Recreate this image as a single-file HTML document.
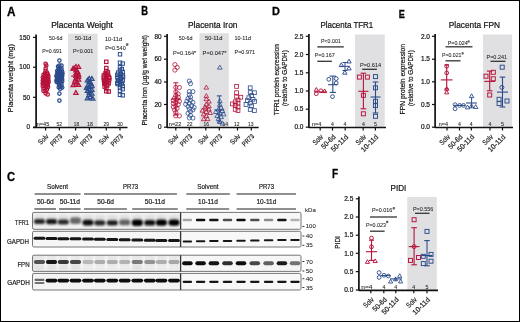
<!DOCTYPE html>
<html><head><meta charset="utf-8"><style>
html,body{margin:0;padding:0;background:#fff;}
svg{display:block;will-change:transform;font-family:"Liberation Sans", sans-serif;}
</style></head><body>
<svg width="520" height="322" viewBox="0 0 520 322">
<rect x="0.5" y="0.5" width="519" height="321" fill="#fff" stroke="#000" stroke-width="1"/>
<text x="7.00" y="15.90" font-size="12.43" font-weight="bold" fill="#000" stroke="#000" stroke-width="0.3" textLength="8.50" lengthAdjust="spacingAndGlyphs">A</text>
<text x="51.20" y="28.40" font-size="8.29" font-weight="normal" fill="#111" stroke="#111" stroke-width="0.2" textLength="61.80" lengthAdjust="spacingAndGlyphs">Placenta Weight</text>
<rect x="68.00" y="33.70" width="29.60" height="93.80" fill="#e0e0e2"/>
<text x="13.50" y="78.20" font-size="7.50" text-anchor="middle" fill="#111" stroke="#111" stroke-width="0.2" transform="rotate(-90 13.50 78.20)" textLength="68.00" lengthAdjust="spacingAndGlyphs">Placenta weight (mg)</text>
<text x="49.00" y="39.80" font-size="4.86" font-weight="normal" fill="#222" stroke="#222" stroke-width="0.06" textLength="13.50" lengthAdjust="spacingAndGlyphs">50-6d</text>
<text x="75.00" y="39.80" font-size="4.86" font-weight="normal" fill="#222" stroke="#222" stroke-width="0.06" textLength="16.20" lengthAdjust="spacingAndGlyphs">50-11d</text>
<text x="105.00" y="40.60" font-size="4.86" font-weight="normal" fill="#222" stroke="#222" stroke-width="0.06" textLength="17.00" lengthAdjust="spacingAndGlyphs">10-11d</text>
<text x="42.20" y="52.60" font-size="5.14" font-weight="normal" fill="#222" stroke="#222" stroke-width="0.06" textLength="19.80" lengthAdjust="spacingAndGlyphs">P=0.691</text>
<text x="73.00" y="52.60" font-size="5.14" font-weight="normal" fill="#222" stroke="#222" stroke-width="0.06" textLength="20.30" lengthAdjust="spacingAndGlyphs">P&lt;0.001</text>
<text x="105.20" y="50.00" font-size="5.71" font-weight="normal" fill="#222" stroke="#222" stroke-width="0.06" textLength="20.50" lengthAdjust="spacingAndGlyphs">P=0.540</text>
<path d="M126.84 43.10L126.59 46.00M127.82 43.10L127.58 46.00M125.90 44.06H128.37M125.90 45.07H128.37" stroke="#333" stroke-width="0.55" fill="none"/>
<text x="36.80" y="126.10" font-size="4.57" font-weight="normal" fill="#222" stroke="#222" stroke-width="0.06" textLength="12.40" lengthAdjust="spacingAndGlyphs">n=45</text>
<text x="56.50" y="126.10" font-size="4.57" font-weight="normal" fill="#222" stroke="#222" stroke-width="0.06" textLength="5.60" lengthAdjust="spacingAndGlyphs">52</text>
<text x="73.80" y="126.10" font-size="4.57" font-weight="normal" fill="#222" stroke="#222" stroke-width="0.06" textLength="5.20" lengthAdjust="spacingAndGlyphs">18</text>
<text x="87.10" y="126.10" font-size="4.57" font-weight="normal" fill="#222" stroke="#222" stroke-width="0.06" textLength="5.70" lengthAdjust="spacingAndGlyphs">18</text>
<text x="103.50" y="126.10" font-size="4.57" font-weight="normal" fill="#222" stroke="#222" stroke-width="0.06" textLength="5.50" lengthAdjust="spacingAndGlyphs">29</text>
<text x="117.30" y="126.10" font-size="4.57" font-weight="normal" fill="#222" stroke="#222" stroke-width="0.06" textLength="5.50" lengthAdjust="spacingAndGlyphs">30</text>
<circle cx="45.60" cy="63.80" r="1.70" fill="none" stroke="#b5133b" stroke-width="1.25"/>
<circle cx="46.30" cy="65.50" r="1.70" fill="none" stroke="#b5133b" stroke-width="1.25"/>
<circle cx="45.60" cy="68.51" r="1.70" fill="none" stroke="#b5133b" stroke-width="1.25"/>
<circle cx="45.60" cy="70.94" r="1.70" fill="none" stroke="#b5133b" stroke-width="1.25"/>
<circle cx="47.00" cy="72.58" r="1.70" fill="none" stroke="#b5133b" stroke-width="1.25"/>
<circle cx="44.90" cy="73.21" r="1.70" fill="none" stroke="#b5133b" stroke-width="1.25"/>
<circle cx="47.70" cy="74.27" r="1.70" fill="none" stroke="#b5133b" stroke-width="1.25"/>
<circle cx="43.50" cy="74.83" r="1.70" fill="none" stroke="#b5133b" stroke-width="1.25"/>
<circle cx="45.60" cy="75.23" r="1.70" fill="none" stroke="#b5133b" stroke-width="1.25"/>
<circle cx="48.40" cy="76.03" r="1.70" fill="none" stroke="#b5133b" stroke-width="1.25"/>
<circle cx="44.32" cy="76.24" r="1.70" fill="none" stroke="#b5133b" stroke-width="1.25"/>
<circle cx="46.30" cy="76.93" r="1.70" fill="none" stroke="#b5133b" stroke-width="1.25"/>
<circle cx="47.48" cy="77.14" r="1.70" fill="none" stroke="#b5133b" stroke-width="1.25"/>
<circle cx="42.80" cy="77.56" r="1.70" fill="none" stroke="#b5133b" stroke-width="1.25"/>
<circle cx="44.90" cy="78.15" r="1.70" fill="none" stroke="#b5133b" stroke-width="1.25"/>
<circle cx="48.40" cy="78.71" r="1.70" fill="none" stroke="#b5133b" stroke-width="1.25"/>
<circle cx="46.87" cy="78.77" r="1.70" fill="none" stroke="#b5133b" stroke-width="1.25"/>
<circle cx="43.96" cy="79.13" r="1.70" fill="none" stroke="#b5133b" stroke-width="1.25"/>
<circle cx="46.08" cy="79.72" r="1.70" fill="none" stroke="#b5133b" stroke-width="1.25"/>
<circle cx="45.76" cy="80.25" r="1.70" fill="none" stroke="#b5133b" stroke-width="1.25"/>
<circle cx="48.00" cy="80.37" r="1.70" fill="none" stroke="#b5133b" stroke-width="1.25"/>
<circle cx="42.80" cy="80.60" r="1.70" fill="none" stroke="#b5133b" stroke-width="1.25"/>
<circle cx="47.07" cy="81.06" r="1.70" fill="none" stroke="#b5133b" stroke-width="1.25"/>
<circle cx="44.24" cy="81.29" r="1.70" fill="none" stroke="#b5133b" stroke-width="1.25"/>
<circle cx="48.67" cy="81.89" r="1.70" fill="none" stroke="#b5133b" stroke-width="1.25"/>
<circle cx="43.16" cy="81.89" r="1.70" fill="none" stroke="#b5133b" stroke-width="1.25"/>
<circle cx="45.08" cy="82.15" r="1.70" fill="none" stroke="#b5133b" stroke-width="1.25"/>
<circle cx="47.25" cy="82.48" r="1.70" fill="none" stroke="#b5133b" stroke-width="1.25"/>
<circle cx="43.37" cy="82.95" r="1.70" fill="none" stroke="#b5133b" stroke-width="1.25"/>
<circle cx="45.53" cy="83.62" r="1.70" fill="none" stroke="#b5133b" stroke-width="1.25"/>
<circle cx="42.65" cy="83.62" r="1.70" fill="none" stroke="#b5133b" stroke-width="1.25"/>
<circle cx="47.70" cy="84.25" r="1.70" fill="none" stroke="#b5133b" stroke-width="1.25"/>
<circle cx="46.68" cy="84.69" r="1.70" fill="none" stroke="#b5133b" stroke-width="1.25"/>
<circle cx="44.20" cy="84.96" r="1.70" fill="none" stroke="#b5133b" stroke-width="1.25"/>
<circle cx="47.29" cy="85.52" r="1.70" fill="none" stroke="#b5133b" stroke-width="1.25"/>
<circle cx="46.07" cy="85.71" r="1.70" fill="none" stroke="#b5133b" stroke-width="1.25"/>
<circle cx="42.80" cy="86.24" r="1.70" fill="none" stroke="#b5133b" stroke-width="1.25"/>
<circle cx="48.00" cy="86.91" r="1.70" fill="none" stroke="#b5133b" stroke-width="1.25"/>
<circle cx="45.60" cy="87.86" r="1.70" fill="none" stroke="#b5133b" stroke-width="1.25"/>
<circle cx="43.50" cy="88.49" r="1.70" fill="none" stroke="#b5133b" stroke-width="1.25"/>
<circle cx="47.00" cy="89.39" r="1.70" fill="none" stroke="#b5133b" stroke-width="1.25"/>
<circle cx="45.60" cy="90.91" r="1.70" fill="none" stroke="#b5133b" stroke-width="1.25"/>
<circle cx="43.50" cy="91.00" r="1.70" fill="none" stroke="#b5133b" stroke-width="1.25"/>
<circle cx="45.60" cy="93.35" r="1.70" fill="none" stroke="#b5133b" stroke-width="1.25"/>
<circle cx="47.70" cy="94.40" r="1.70" fill="none" stroke="#b5133b" stroke-width="1.25"/>
<circle cx="59.40" cy="60.60" r="1.70" fill="none" stroke="#2b4b8b" stroke-width="1.25"/>
<circle cx="59.40" cy="65.49" r="1.70" fill="none" stroke="#2b4b8b" stroke-width="1.25"/>
<circle cx="61.50" cy="65.60" r="1.70" fill="none" stroke="#2b4b8b" stroke-width="1.25"/>
<circle cx="58.00" cy="66.48" r="1.70" fill="none" stroke="#2b4b8b" stroke-width="1.25"/>
<circle cx="59.40" cy="67.73" r="1.70" fill="none" stroke="#2b4b8b" stroke-width="1.25"/>
<circle cx="61.50" cy="68.67" r="1.70" fill="none" stroke="#2b4b8b" stroke-width="1.25"/>
<circle cx="58.70" cy="69.36" r="1.70" fill="none" stroke="#2b4b8b" stroke-width="1.25"/>
<circle cx="60.80" cy="70.23" r="1.70" fill="none" stroke="#2b4b8b" stroke-width="1.25"/>
<circle cx="57.30" cy="70.86" r="1.70" fill="none" stroke="#2b4b8b" stroke-width="1.25"/>
<circle cx="58.88" cy="71.08" r="1.70" fill="none" stroke="#2b4b8b" stroke-width="1.25"/>
<circle cx="62.20" cy="71.66" r="1.70" fill="none" stroke="#2b4b8b" stroke-width="1.25"/>
<circle cx="58.56" cy="71.73" r="1.70" fill="none" stroke="#2b4b8b" stroke-width="1.25"/>
<circle cx="60.10" cy="72.53" r="1.70" fill="none" stroke="#2b4b8b" stroke-width="1.25"/>
<circle cx="57.30" cy="72.88" r="1.70" fill="none" stroke="#2b4b8b" stroke-width="1.25"/>
<circle cx="62.20" cy="73.45" r="1.70" fill="none" stroke="#2b4b8b" stroke-width="1.25"/>
<circle cx="59.82" cy="73.71" r="1.70" fill="none" stroke="#2b4b8b" stroke-width="1.25"/>
<circle cx="62.30" cy="73.72" r="1.70" fill="none" stroke="#2b4b8b" stroke-width="1.25"/>
<circle cx="60.62" cy="74.12" r="1.70" fill="none" stroke="#2b4b8b" stroke-width="1.25"/>
<circle cx="58.00" cy="74.54" r="1.70" fill="none" stroke="#2b4b8b" stroke-width="1.25"/>
<circle cx="59.50" cy="74.61" r="1.70" fill="none" stroke="#2b4b8b" stroke-width="1.25"/>
<circle cx="60.15" cy="75.11" r="1.70" fill="none" stroke="#2b4b8b" stroke-width="1.25"/>
<circle cx="60.53" cy="75.25" r="1.70" fill="none" stroke="#2b4b8b" stroke-width="1.25"/>
<circle cx="56.60" cy="75.52" r="1.70" fill="none" stroke="#2b4b8b" stroke-width="1.25"/>
<circle cx="62.20" cy="75.79" r="1.70" fill="none" stroke="#2b4b8b" stroke-width="1.25"/>
<circle cx="58.70" cy="76.43" r="1.70" fill="none" stroke="#2b4b8b" stroke-width="1.25"/>
<circle cx="56.55" cy="76.51" r="1.70" fill="none" stroke="#2b4b8b" stroke-width="1.25"/>
<circle cx="61.96" cy="76.80" r="1.70" fill="none" stroke="#2b4b8b" stroke-width="1.25"/>
<circle cx="61.19" cy="77.19" r="1.70" fill="none" stroke="#2b4b8b" stroke-width="1.25"/>
<circle cx="61.80" cy="77.61" r="1.70" fill="none" stroke="#2b4b8b" stroke-width="1.25"/>
<circle cx="61.31" cy="77.78" r="1.70" fill="none" stroke="#2b4b8b" stroke-width="1.25"/>
<circle cx="59.40" cy="78.14" r="1.70" fill="none" stroke="#2b4b8b" stroke-width="1.25"/>
<circle cx="57.30" cy="78.52" r="1.70" fill="none" stroke="#2b4b8b" stroke-width="1.25"/>
<circle cx="58.71" cy="79.04" r="1.70" fill="none" stroke="#2b4b8b" stroke-width="1.25"/>
<circle cx="62.20" cy="79.34" r="1.70" fill="none" stroke="#2b4b8b" stroke-width="1.25"/>
<circle cx="58.75" cy="79.71" r="1.70" fill="none" stroke="#2b4b8b" stroke-width="1.25"/>
<circle cx="56.86" cy="79.71" r="1.70" fill="none" stroke="#2b4b8b" stroke-width="1.25"/>
<circle cx="60.26" cy="80.16" r="1.70" fill="none" stroke="#2b4b8b" stroke-width="1.25"/>
<circle cx="56.60" cy="80.51" r="1.70" fill="none" stroke="#2b4b8b" stroke-width="1.25"/>
<circle cx="62.20" cy="81.23" r="1.70" fill="none" stroke="#2b4b8b" stroke-width="1.25"/>
<circle cx="59.40" cy="81.69" r="1.70" fill="none" stroke="#2b4b8b" stroke-width="1.25"/>
<circle cx="56.63" cy="81.71" r="1.70" fill="none" stroke="#2b4b8b" stroke-width="1.25"/>
<circle cx="57.54" cy="82.22" r="1.70" fill="none" stroke="#2b4b8b" stroke-width="1.25"/>
<circle cx="60.80" cy="82.81" r="1.70" fill="none" stroke="#2b4b8b" stroke-width="1.25"/>
<circle cx="58.70" cy="83.46" r="1.70" fill="none" stroke="#2b4b8b" stroke-width="1.25"/>
<circle cx="61.50" cy="84.37" r="1.70" fill="none" stroke="#2b4b8b" stroke-width="1.25"/>
<circle cx="59.40" cy="85.38" r="1.70" fill="none" stroke="#2b4b8b" stroke-width="1.25"/>
<circle cx="60.80" cy="86.50" r="1.70" fill="none" stroke="#2b4b8b" stroke-width="1.25"/>
<circle cx="58.70" cy="87.20" r="1.70" fill="none" stroke="#2b4b8b" stroke-width="1.25"/>
<circle cx="62.20" cy="87.50" r="1.70" fill="none" stroke="#2b4b8b" stroke-width="1.25"/>
<circle cx="60.10" cy="88.70" r="1.70" fill="none" stroke="#2b4b8b" stroke-width="1.25"/>
<circle cx="59.40" cy="93.60" r="1.70" fill="none" stroke="#2b4b8b" stroke-width="1.25"/>
<circle cx="59.40" cy="100.60" r="1.70" fill="none" stroke="#2b4b8b" stroke-width="1.25"/>
<path d="M75.90 64.51L77.99 68.16L73.81 68.16Z" fill="none" stroke="#b5133b" stroke-width="1.25"/>
<path d="M78.60 64.71L80.69 68.37L76.51 68.37Z" fill="none" stroke="#b5133b" stroke-width="1.25"/>
<path d="M74.10 66.24L76.19 69.90L72.01 69.90Z" fill="none" stroke="#b5133b" stroke-width="1.25"/>
<path d="M73.03 66.41L75.12 70.07L70.94 70.07Z" fill="none" stroke="#b5133b" stroke-width="1.25"/>
<path d="M75.90 68.16L77.99 71.81L73.81 71.81Z" fill="none" stroke="#b5133b" stroke-width="1.25"/>
<path d="M77.70 69.73L79.79 73.38L75.61 73.38Z" fill="none" stroke="#b5133b" stroke-width="1.25"/>
<path d="M75.90 71.19L77.99 74.84L73.81 74.84Z" fill="none" stroke="#b5133b" stroke-width="1.25"/>
<path d="M78.60 72.40L80.69 76.06L76.51 76.06Z" fill="none" stroke="#b5133b" stroke-width="1.25"/>
<path d="M75.90 73.75L77.99 77.40L73.81 77.40Z" fill="none" stroke="#b5133b" stroke-width="1.25"/>
<path d="M78.60 74.71L80.69 78.37L76.51 78.37Z" fill="none" stroke="#b5133b" stroke-width="1.25"/>
<path d="M75.90 76.40L77.99 80.06L73.81 80.06Z" fill="none" stroke="#b5133b" stroke-width="1.25"/>
<path d="M78.60 77.49L80.69 81.15L76.51 81.15Z" fill="none" stroke="#b5133b" stroke-width="1.25"/>
<path d="M75.00 78.58L77.09 82.24L72.91 82.24Z" fill="none" stroke="#b5133b" stroke-width="1.25"/>
<path d="M76.80 80.25L78.89 83.90L74.71 83.90Z" fill="none" stroke="#b5133b" stroke-width="1.25"/>
<path d="M75.90 82.39L77.99 86.05L73.81 86.05Z" fill="none" stroke="#b5133b" stroke-width="1.25"/>
<path d="M78.60 82.83L80.69 86.49L76.51 86.49Z" fill="none" stroke="#b5133b" stroke-width="1.25"/>
<path d="M73.20 82.91L75.29 86.57L71.11 86.57Z" fill="none" stroke="#b5133b" stroke-width="1.25"/>
<path d="M75.90 90.61L77.99 94.27L73.81 94.27Z" fill="none" stroke="#b5133b" stroke-width="1.25"/>
<path d="M89.20 76.41L91.29 80.07L87.11 80.07Z" fill="none" stroke="#2b4b8b" stroke-width="1.25"/>
<path d="M91.90 76.62L93.99 80.28L89.81 80.28Z" fill="none" stroke="#2b4b8b" stroke-width="1.25"/>
<path d="M87.40 78.14L89.49 81.80L85.31 81.80Z" fill="none" stroke="#2b4b8b" stroke-width="1.25"/>
<path d="M89.20 79.82L91.29 83.48L87.11 83.48Z" fill="none" stroke="#2b4b8b" stroke-width="1.25"/>
<path d="M91.00 81.35L93.09 85.01L88.91 85.01Z" fill="none" stroke="#2b4b8b" stroke-width="1.25"/>
<path d="M88.30 82.40L90.39 86.05L86.21 86.05Z" fill="none" stroke="#2b4b8b" stroke-width="1.25"/>
<path d="M91.90 83.56L93.99 87.21L89.81 87.21Z" fill="none" stroke="#2b4b8b" stroke-width="1.25"/>
<path d="M89.20 84.77L91.29 88.43L87.11 88.43Z" fill="none" stroke="#2b4b8b" stroke-width="1.25"/>
<path d="M86.50 85.76L88.59 89.42L84.41 89.42Z" fill="none" stroke="#2b4b8b" stroke-width="1.25"/>
<path d="M89.20 87.12L91.29 90.77L87.11 90.77Z" fill="none" stroke="#2b4b8b" stroke-width="1.25"/>
<path d="M91.90 87.75L93.99 91.41L89.81 91.41Z" fill="none" stroke="#2b4b8b" stroke-width="1.25"/>
<path d="M87.40 88.74L89.49 92.40L85.31 92.40Z" fill="none" stroke="#2b4b8b" stroke-width="1.25"/>
<path d="M89.20 90.44L91.29 94.10L87.11 94.10Z" fill="none" stroke="#2b4b8b" stroke-width="1.25"/>
<path d="M91.90 91.47L93.99 95.13L89.81 95.13Z" fill="none" stroke="#2b4b8b" stroke-width="1.25"/>
<path d="M89.20 92.76L91.29 96.42L87.11 96.42Z" fill="none" stroke="#2b4b8b" stroke-width="1.25"/>
<path d="M90.10 95.00L92.19 98.66L88.01 98.66Z" fill="none" stroke="#2b4b8b" stroke-width="1.25"/>
<path d="M87.40 96.13L89.49 99.78L85.31 99.78Z" fill="none" stroke="#2b4b8b" stroke-width="1.25"/>
<path d="M92.80 96.41L94.89 100.07L90.71 100.07Z" fill="none" stroke="#2b4b8b" stroke-width="1.25"/>
<rect x="104.60" y="60.10" width="3.40" height="3.40" fill="none" stroke="#b5133b" stroke-width="1.15"/>
<rect x="104.60" y="66.35" width="3.40" height="3.40" fill="none" stroke="#b5133b" stroke-width="1.15"/>
<rect x="104.60" y="69.32" width="3.40" height="3.40" fill="none" stroke="#b5133b" stroke-width="1.15"/>
<rect x="106.20" y="70.73" width="3.40" height="3.40" fill="none" stroke="#b5133b" stroke-width="1.15"/>
<rect x="103.80" y="71.71" width="3.40" height="3.40" fill="none" stroke="#b5133b" stroke-width="1.15"/>
<rect x="104.28" y="72.34" width="3.40" height="3.40" fill="none" stroke="#b5133b" stroke-width="1.15"/>
<rect x="106.20" y="73.16" width="3.40" height="3.40" fill="none" stroke="#b5133b" stroke-width="1.15"/>
<rect x="102.20" y="73.73" width="3.40" height="3.40" fill="none" stroke="#b5133b" stroke-width="1.15"/>
<rect x="104.60" y="74.72" width="3.40" height="3.40" fill="none" stroke="#b5133b" stroke-width="1.15"/>
<rect x="107.00" y="75.17" width="3.40" height="3.40" fill="none" stroke="#b5133b" stroke-width="1.15"/>
<rect x="102.20" y="75.88" width="3.40" height="3.40" fill="none" stroke="#b5133b" stroke-width="1.15"/>
<rect x="107.22" y="76.15" width="3.40" height="3.40" fill="none" stroke="#b5133b" stroke-width="1.15"/>
<rect x="107.53" y="76.61" width="3.40" height="3.40" fill="none" stroke="#b5133b" stroke-width="1.15"/>
<rect x="104.60" y="77.48" width="3.40" height="3.40" fill="none" stroke="#b5133b" stroke-width="1.15"/>
<rect x="102.20" y="78.09" width="3.40" height="3.40" fill="none" stroke="#b5133b" stroke-width="1.15"/>
<rect x="107.33" y="78.52" width="3.40" height="3.40" fill="none" stroke="#b5133b" stroke-width="1.15"/>
<rect x="103.79" y="79.01" width="3.40" height="3.40" fill="none" stroke="#b5133b" stroke-width="1.15"/>
<rect x="102.92" y="79.54" width="3.40" height="3.40" fill="none" stroke="#b5133b" stroke-width="1.15"/>
<rect x="102.96" y="80.04" width="3.40" height="3.40" fill="none" stroke="#b5133b" stroke-width="1.15"/>
<rect x="105.40" y="80.29" width="3.40" height="3.40" fill="none" stroke="#b5133b" stroke-width="1.15"/>
<rect x="102.78" y="81.05" width="3.40" height="3.40" fill="none" stroke="#b5133b" stroke-width="1.15"/>
<rect x="107.00" y="81.58" width="3.40" height="3.40" fill="none" stroke="#b5133b" stroke-width="1.15"/>
<rect x="102.83" y="82.07" width="3.40" height="3.40" fill="none" stroke="#b5133b" stroke-width="1.15"/>
<rect x="105.40" y="82.84" width="3.40" height="3.40" fill="none" stroke="#b5133b" stroke-width="1.15"/>
<rect x="105.34" y="83.87" width="3.40" height="3.40" fill="none" stroke="#b5133b" stroke-width="1.15"/>
<rect x="103.00" y="84.94" width="3.40" height="3.40" fill="none" stroke="#b5133b" stroke-width="1.15"/>
<rect x="104.60" y="86.68" width="3.40" height="3.40" fill="none" stroke="#b5133b" stroke-width="1.15"/>
<rect x="104.60" y="89.54" width="3.40" height="3.40" fill="none" stroke="#b5133b" stroke-width="1.15"/>
<rect x="107.00" y="89.80" width="3.40" height="3.40" fill="none" stroke="#b5133b" stroke-width="1.15"/>
<rect x="118.30" y="52.60" width="3.40" height="3.40" fill="none" stroke="#2b4b8b" stroke-width="1.0"/>
<rect x="118.30" y="61.00" width="3.40" height="3.40" fill="none" stroke="#2b4b8b" stroke-width="1.0"/>
<rect x="121.00" y="61.90" width="3.40" height="3.40" fill="none" stroke="#2b4b8b" stroke-width="1.0"/>
<rect x="118.30" y="65.56" width="3.40" height="3.40" fill="none" stroke="#2b4b8b" stroke-width="1.0"/>
<rect x="120.10" y="67.35" width="3.40" height="3.40" fill="none" stroke="#2b4b8b" stroke-width="1.0"/>
<rect x="118.30" y="68.93" width="3.40" height="3.40" fill="none" stroke="#2b4b8b" stroke-width="1.0"/>
<rect x="121.00" y="70.22" width="3.40" height="3.40" fill="none" stroke="#2b4b8b" stroke-width="1.0"/>
<rect x="116.50" y="70.84" width="3.40" height="3.40" fill="none" stroke="#2b4b8b" stroke-width="1.0"/>
<rect x="119.20" y="72.12" width="3.40" height="3.40" fill="none" stroke="#2b4b8b" stroke-width="1.0"/>
<rect x="115.60" y="73.12" width="3.40" height="3.40" fill="none" stroke="#2b4b8b" stroke-width="1.0"/>
<rect x="121.00" y="73.85" width="3.40" height="3.40" fill="none" stroke="#2b4b8b" stroke-width="1.0"/>
<rect x="118.30" y="74.60" width="3.40" height="3.40" fill="none" stroke="#2b4b8b" stroke-width="1.0"/>
<rect x="121.37" y="75.17" width="3.40" height="3.40" fill="none" stroke="#2b4b8b" stroke-width="1.0"/>
<rect x="115.60" y="75.71" width="3.40" height="3.40" fill="none" stroke="#2b4b8b" stroke-width="1.0"/>
<rect x="119.20" y="76.78" width="3.40" height="3.40" fill="none" stroke="#2b4b8b" stroke-width="1.0"/>
<rect x="119.31" y="77.20" width="3.40" height="3.40" fill="none" stroke="#2b4b8b" stroke-width="1.0"/>
<rect x="116.50" y="78.18" width="3.40" height="3.40" fill="none" stroke="#2b4b8b" stroke-width="1.0"/>
<rect x="121.00" y="78.98" width="3.40" height="3.40" fill="none" stroke="#2b4b8b" stroke-width="1.0"/>
<rect x="117.34" y="79.35" width="3.40" height="3.40" fill="none" stroke="#2b4b8b" stroke-width="1.0"/>
<rect x="118.61" y="80.09" width="3.40" height="3.40" fill="none" stroke="#2b4b8b" stroke-width="1.0"/>
<rect x="115.60" y="81.18" width="3.40" height="3.40" fill="none" stroke="#2b4b8b" stroke-width="1.0"/>
<rect x="120.10" y="81.86" width="3.40" height="3.40" fill="none" stroke="#2b4b8b" stroke-width="1.0"/>
<rect x="115.94" y="82.38" width="3.40" height="3.40" fill="none" stroke="#2b4b8b" stroke-width="1.0"/>
<rect x="118.30" y="83.29" width="3.40" height="3.40" fill="none" stroke="#2b4b8b" stroke-width="1.0"/>
<rect x="121.00" y="84.35" width="3.40" height="3.40" fill="none" stroke="#2b4b8b" stroke-width="1.0"/>
<rect x="118.30" y="86.00" width="3.40" height="3.40" fill="none" stroke="#2b4b8b" stroke-width="1.0"/>
<rect x="121.00" y="87.42" width="3.40" height="3.40" fill="none" stroke="#2b4b8b" stroke-width="1.0"/>
<rect x="118.30" y="89.04" width="3.40" height="3.40" fill="none" stroke="#2b4b8b" stroke-width="1.0"/>
<rect x="118.30" y="93.14" width="3.40" height="3.40" fill="none" stroke="#2b4b8b" stroke-width="1.0"/>
<rect x="121.00" y="93.60" width="3.40" height="3.40" fill="none" stroke="#2b4b8b" stroke-width="1.0"/>
<line x1="71.20" y1="76.10" x2="80.90" y2="76.10" stroke="#b5133b" stroke-width="1.1"/>
<line x1="84.50" y1="87.90" x2="94.50" y2="87.90" stroke="#2b4b8b" stroke-width="1.1"/>
<line x1="36.10" y1="34.40" x2="36.10" y2="127.80" stroke="#111" stroke-width="1.7"/>
<line x1="33.00" y1="37.40" x2="36.00" y2="37.40" stroke="#111" stroke-width="1.2"/>
<text x="30.00" y="39.60" font-size="6.40" text-anchor="end" fill="#111" stroke="#111" stroke-width="0.2">150</text>
<line x1="33.00" y1="67.20" x2="36.00" y2="67.20" stroke="#111" stroke-width="1.2"/>
<text x="30.00" y="69.40" font-size="6.40" text-anchor="end" fill="#111" stroke="#111" stroke-width="0.2">100</text>
<line x1="33.00" y1="97.30" x2="36.00" y2="97.30" stroke="#111" stroke-width="1.2"/>
<text x="30.00" y="99.50" font-size="6.40" text-anchor="end" fill="#111" stroke="#111" stroke-width="0.2">50</text>
<line x1="33.00" y1="127.20" x2="36.00" y2="127.20" stroke="#111" stroke-width="1.2"/>
<text x="30.00" y="129.40" font-size="6.40" text-anchor="end" fill="#111" stroke="#111" stroke-width="0.2">0</text>
<line x1="33.00" y1="127.50" x2="127.50" y2="127.50" stroke="#111" stroke-width="1.7"/>
<line x1="45.60" y1="127.50" x2="45.60" y2="130.50" stroke="#111" stroke-width="1.2"/>
<line x1="59.40" y1="127.50" x2="59.40" y2="130.50" stroke="#111" stroke-width="1.2"/>
<line x1="75.60" y1="127.50" x2="75.60" y2="130.50" stroke="#111" stroke-width="1.2"/>
<line x1="89.40" y1="127.50" x2="89.40" y2="130.50" stroke="#111" stroke-width="1.2"/>
<line x1="106.30" y1="127.50" x2="106.30" y2="130.50" stroke="#111" stroke-width="1.2"/>
<line x1="120.00" y1="127.50" x2="120.00" y2="130.50" stroke="#111" stroke-width="1.2"/>
<text x="49.00" y="136.80" font-size="7.00" text-anchor="end" fill="#222" stroke="#222" stroke-width="0.2" transform="rotate(-45 49.00 136.80)" textLength="11.50" lengthAdjust="spacingAndGlyphs">Solv</text>
<text x="62.80" y="136.80" font-size="7.00" text-anchor="end" fill="#222" stroke="#222" stroke-width="0.2" transform="rotate(-45 62.80 136.80)" textLength="14.00" lengthAdjust="spacingAndGlyphs">PR73</text>
<text x="79.00" y="136.80" font-size="7.00" text-anchor="end" fill="#222" stroke="#222" stroke-width="0.2" transform="rotate(-45 79.00 136.80)" textLength="11.50" lengthAdjust="spacingAndGlyphs">Solv</text>
<text x="92.80" y="136.80" font-size="7.00" text-anchor="end" fill="#222" stroke="#222" stroke-width="0.2" transform="rotate(-45 92.80 136.80)" textLength="14.00" lengthAdjust="spacingAndGlyphs">PR73</text>
<text x="109.70" y="136.80" font-size="7.00" text-anchor="end" fill="#222" stroke="#222" stroke-width="0.2" transform="rotate(-45 109.70 136.80)" textLength="11.50" lengthAdjust="spacingAndGlyphs">Solv</text>
<text x="123.40" y="136.80" font-size="7.00" text-anchor="end" fill="#222" stroke="#222" stroke-width="0.2" transform="rotate(-45 123.40 136.80)" textLength="14.00" lengthAdjust="spacingAndGlyphs">PR73</text>
<text x="141.30" y="15.40" font-size="12.00" font-weight="bold" fill="#000" stroke="#000" stroke-width="0.3" textLength="6.80" lengthAdjust="spacingAndGlyphs">B</text>
<text x="188.00" y="28.40" font-size="8.29" font-weight="normal" fill="#111" stroke="#111" stroke-width="0.2" textLength="49.50" lengthAdjust="spacingAndGlyphs">Placenta Iron</text>
<rect x="199.50" y="33.20" width="29.30" height="94.30" fill="#e0e0e2"/>
<text x="147.40" y="80.20" font-size="7.60" text-anchor="middle" fill="#111" stroke="#111" stroke-width="0.2" transform="rotate(-90 147.40 80.20)" textLength="90.50" lengthAdjust="spacingAndGlyphs">Placenta iron (µg/g wet weight)</text>
<text x="178.80" y="39.80" font-size="4.86" font-weight="normal" fill="#222" stroke="#222" stroke-width="0.06" textLength="13.70" lengthAdjust="spacingAndGlyphs">50-6d</text>
<text x="205.00" y="39.80" font-size="4.86" font-weight="normal" fill="#222" stroke="#222" stroke-width="0.06" textLength="17.50" lengthAdjust="spacingAndGlyphs">50-11d</text>
<text x="234.50" y="39.80" font-size="4.86" font-weight="normal" fill="#222" stroke="#222" stroke-width="0.06" textLength="16.50" lengthAdjust="spacingAndGlyphs">10-11d</text>
<text x="173.00" y="55.20" font-size="5.14" font-weight="normal" fill="#222" stroke="#222" stroke-width="0.06" textLength="23.30" lengthAdjust="spacingAndGlyphs">P=0.164*</text>
<text x="202.50" y="55.20" font-size="5.14" font-weight="normal" fill="#222" stroke="#222" stroke-width="0.06" textLength="24.10" lengthAdjust="spacingAndGlyphs">P=0.047*</text>
<text x="234.50" y="53.60" font-size="5.14" font-weight="normal" fill="#222" stroke="#222" stroke-width="0.06" textLength="20.60" lengthAdjust="spacingAndGlyphs">P=0.971</text>
<text x="168.80" y="126.10" font-size="4.57" font-weight="normal" fill="#222" stroke="#222" stroke-width="0.06" textLength="12.50" lengthAdjust="spacingAndGlyphs">n=22</text>
<text x="187.00" y="126.10" font-size="4.57" font-weight="normal" fill="#222" stroke="#222" stroke-width="0.06" textLength="5.50" lengthAdjust="spacingAndGlyphs">22</text>
<text x="203.50" y="126.10" font-size="4.57" font-weight="normal" fill="#222" stroke="#222" stroke-width="0.06" textLength="5.50" lengthAdjust="spacingAndGlyphs">16</text>
<text x="222.50" y="126.10" font-size="4.57" font-weight="normal" fill="#222" stroke="#222" stroke-width="0.06" textLength="5.50" lengthAdjust="spacingAndGlyphs">14</text>
<text x="234.00" y="126.10" font-size="4.57" font-weight="normal" fill="#222" stroke="#222" stroke-width="0.06" textLength="5.50" lengthAdjust="spacingAndGlyphs">12</text>
<text x="248.00" y="126.10" font-size="4.57" font-weight="normal" fill="#222" stroke="#222" stroke-width="0.06" textLength="5.50" lengthAdjust="spacingAndGlyphs">13</text>
<circle cx="175.80" cy="87.35" r="2.10" fill="none" stroke="#b5133b" stroke-width="0.8"/>
<circle cx="179.40" cy="87.50" r="2.10" fill="none" stroke="#b5133b" stroke-width="0.8"/>
<circle cx="175.80" cy="91.91" r="2.10" fill="none" stroke="#b5133b" stroke-width="0.8"/>
<circle cx="178.20" cy="93.95" r="2.10" fill="none" stroke="#b5133b" stroke-width="0.8"/>
<circle cx="175.80" cy="95.55" r="2.10" fill="none" stroke="#b5133b" stroke-width="0.8"/>
<circle cx="178.20" cy="97.20" r="2.10" fill="none" stroke="#b5133b" stroke-width="0.8"/>
<circle cx="174.60" cy="98.15" r="2.10" fill="none" stroke="#b5133b" stroke-width="0.8"/>
<circle cx="177.00" cy="99.56" r="2.10" fill="none" stroke="#b5133b" stroke-width="0.8"/>
<circle cx="173.40" cy="100.62" r="2.10" fill="none" stroke="#b5133b" stroke-width="0.8"/>
<circle cx="179.40" cy="101.30" r="2.10" fill="none" stroke="#b5133b" stroke-width="0.8"/>
<circle cx="175.80" cy="102.37" r="2.10" fill="none" stroke="#b5133b" stroke-width="0.8"/>
<circle cx="173.40" cy="103.45" r="2.10" fill="none" stroke="#b5133b" stroke-width="0.8"/>
<circle cx="178.20" cy="104.51" r="2.10" fill="none" stroke="#b5133b" stroke-width="0.8"/>
<circle cx="175.80" cy="105.87" r="2.10" fill="none" stroke="#b5133b" stroke-width="0.8"/>
<circle cx="173.40" cy="106.91" r="2.10" fill="none" stroke="#b5133b" stroke-width="0.8"/>
<circle cx="177.00" cy="108.41" r="2.10" fill="none" stroke="#b5133b" stroke-width="0.8"/>
<circle cx="174.60" cy="109.92" r="2.10" fill="none" stroke="#b5133b" stroke-width="0.8"/>
<circle cx="175.80" cy="112.62" r="2.10" fill="none" stroke="#b5133b" stroke-width="0.8"/>
<circle cx="175.80" cy="115.81" r="2.10" fill="none" stroke="#b5133b" stroke-width="0.8"/>
<circle cx="179.40" cy="115.90" r="2.10" fill="none" stroke="#b5133b" stroke-width="0.8"/>
<circle cx="174.90" cy="64.60" r="2.10" fill="none" stroke="#b5133b" stroke-width="0.8"/>
<circle cx="177.20" cy="67.40" r="2.10" fill="none" stroke="#b5133b" stroke-width="0.8"/>
<circle cx="174.90" cy="70.10" r="2.10" fill="none" stroke="#b5133b" stroke-width="0.8"/>
<line x1="170.80" y1="99.00" x2="180.80" y2="99.00" stroke="#b5133b" stroke-width="1.0"/>
<line x1="175.80" y1="82.80" x2="175.80" y2="115.00" stroke="#b5133b" stroke-width="1.0"/>
<line x1="173.30" y1="82.80" x2="178.30" y2="82.80" stroke="#b5133b" stroke-width="1.0"/>
<line x1="173.30" y1="115.00" x2="178.30" y2="115.00" stroke="#b5133b" stroke-width="1.0"/>
<circle cx="189.30" cy="81.10" r="2.10" fill="none" stroke="#2b4b8b" stroke-width="0.8"/>
<circle cx="190.50" cy="83.60" r="2.10" fill="none" stroke="#2b4b8b" stroke-width="0.8"/>
<circle cx="189.30" cy="91.57" r="2.10" fill="none" stroke="#2b4b8b" stroke-width="0.8"/>
<circle cx="192.90" cy="91.60" r="2.10" fill="none" stroke="#2b4b8b" stroke-width="0.8"/>
<circle cx="189.30" cy="94.68" r="2.10" fill="none" stroke="#2b4b8b" stroke-width="0.8"/>
<circle cx="190.50" cy="97.10" r="2.10" fill="none" stroke="#2b4b8b" stroke-width="0.8"/>
<circle cx="188.10" cy="98.49" r="2.10" fill="none" stroke="#2b4b8b" stroke-width="0.8"/>
<circle cx="190.50" cy="100.19" r="2.10" fill="none" stroke="#2b4b8b" stroke-width="0.8"/>
<circle cx="186.90" cy="101.19" r="2.10" fill="none" stroke="#2b4b8b" stroke-width="0.8"/>
<circle cx="192.90" cy="102.35" r="2.10" fill="none" stroke="#2b4b8b" stroke-width="0.8"/>
<circle cx="189.30" cy="103.44" r="2.10" fill="none" stroke="#2b4b8b" stroke-width="0.8"/>
<circle cx="185.70" cy="104.19" r="2.10" fill="none" stroke="#2b4b8b" stroke-width="0.8"/>
<circle cx="191.70" cy="105.49" r="2.10" fill="none" stroke="#2b4b8b" stroke-width="0.8"/>
<circle cx="188.10" cy="106.39" r="2.10" fill="none" stroke="#2b4b8b" stroke-width="0.8"/>
<circle cx="194.10" cy="107.37" r="2.10" fill="none" stroke="#2b4b8b" stroke-width="0.8"/>
<circle cx="189.30" cy="108.99" r="2.10" fill="none" stroke="#2b4b8b" stroke-width="0.8"/>
<circle cx="192.90" cy="109.86" r="2.10" fill="none" stroke="#2b4b8b" stroke-width="0.8"/>
<circle cx="190.50" cy="111.45" r="2.10" fill="none" stroke="#2b4b8b" stroke-width="0.8"/>
<circle cx="188.10" cy="113.28" r="2.10" fill="none" stroke="#2b4b8b" stroke-width="0.8"/>
<circle cx="190.50" cy="115.41" r="2.10" fill="none" stroke="#2b4b8b" stroke-width="0.8"/>
<circle cx="189.30" cy="117.90" r="2.10" fill="none" stroke="#2b4b8b" stroke-width="0.8"/>
<circle cx="192.90" cy="118.00" r="2.10" fill="none" stroke="#2b4b8b" stroke-width="0.8"/>
<path d="M206.30 85.09L208.61 89.13L203.99 89.13Z" fill="none" stroke="#b5133b" stroke-width="0.8"/>
<path d="M206.30 93.59L208.61 97.63L203.99 97.63Z" fill="none" stroke="#b5133b" stroke-width="0.8"/>
<path d="M206.30 96.69L208.61 100.73L203.99 100.73Z" fill="none" stroke="#b5133b" stroke-width="0.8"/>
<path d="M208.90 99.04L211.21 103.09L206.59 103.09Z" fill="none" stroke="#b5133b" stroke-width="0.8"/>
<path d="M206.30 101.97L208.61 106.01L203.99 106.01Z" fill="none" stroke="#b5133b" stroke-width="0.8"/>
<path d="M208.90 103.80L211.21 107.84L206.59 107.84Z" fill="none" stroke="#b5133b" stroke-width="0.8"/>
<path d="M205.00 104.71L207.31 108.75L202.69 108.75Z" fill="none" stroke="#b5133b" stroke-width="0.8"/>
<path d="M205.78 106.13L208.09 110.18L203.47 110.18Z" fill="none" stroke="#b5133b" stroke-width="0.8"/>
<path d="M208.90 107.02L211.21 111.06L206.59 111.06Z" fill="none" stroke="#b5133b" stroke-width="0.8"/>
<path d="M202.40 108.08L204.71 112.12L200.09 112.12Z" fill="none" stroke="#b5133b" stroke-width="0.8"/>
<path d="M206.30 109.45L208.61 113.49L203.99 113.49Z" fill="none" stroke="#b5133b" stroke-width="0.8"/>
<path d="M210.20 110.44L212.51 114.48L207.89 114.48Z" fill="none" stroke="#b5133b" stroke-width="0.8"/>
<path d="M203.70 111.79L206.01 115.83L201.39 115.83Z" fill="none" stroke="#b5133b" stroke-width="0.8"/>
<path d="M206.30 113.60L208.61 117.64L203.99 117.64Z" fill="none" stroke="#b5133b" stroke-width="0.8"/>
<path d="M207.60 116.60L209.91 120.64L205.29 120.64Z" fill="none" stroke="#b5133b" stroke-width="0.8"/>
<path d="M203.70 116.69L206.01 120.73L201.39 120.73Z" fill="none" stroke="#b5133b" stroke-width="0.8"/>
<path d="M219.80 65.09L222.11 69.13L217.49 69.13Z" fill="none" stroke="#2b4b8b" stroke-width="0.8"/>
<path d="M219.80 98.69L222.11 102.73L217.49 102.73Z" fill="none" stroke="#2b4b8b" stroke-width="0.8"/>
<path d="M219.80 102.30L222.11 106.35L217.49 106.35Z" fill="none" stroke="#2b4b8b" stroke-width="0.8"/>
<path d="M221.10 105.21L223.41 109.25L218.79 109.25Z" fill="none" stroke="#2b4b8b" stroke-width="0.8"/>
<path d="M218.50 106.96L220.81 111.00L216.19 111.00Z" fill="none" stroke="#2b4b8b" stroke-width="0.8"/>
<path d="M222.40 108.44L224.71 112.48L220.09 112.48Z" fill="none" stroke="#2b4b8b" stroke-width="0.8"/>
<path d="M215.90 109.51L218.21 113.55L213.59 113.55Z" fill="none" stroke="#2b4b8b" stroke-width="0.8"/>
<path d="M219.80 110.71L222.11 114.75L217.49 114.75Z" fill="none" stroke="#2b4b8b" stroke-width="0.8"/>
<path d="M223.70 111.83L226.01 115.87L221.39 115.87Z" fill="none" stroke="#2b4b8b" stroke-width="0.8"/>
<path d="M217.20 113.32L219.51 117.36L214.89 117.36Z" fill="none" stroke="#2b4b8b" stroke-width="0.8"/>
<path d="M221.10 114.55L223.41 118.59L218.79 118.59Z" fill="none" stroke="#2b4b8b" stroke-width="0.8"/>
<path d="M218.50 116.40L220.81 120.44L216.19 120.44Z" fill="none" stroke="#2b4b8b" stroke-width="0.8"/>
<path d="M219.80 119.41L222.11 123.45L217.49 123.45Z" fill="none" stroke="#2b4b8b" stroke-width="0.8"/>
<path d="M222.40 120.99L224.71 125.03L220.09 125.03Z" fill="none" stroke="#2b4b8b" stroke-width="0.8"/>
<line x1="214.30" y1="110.00" x2="224.30" y2="110.00" stroke="#2b4b8b" stroke-width="1.0"/>
<line x1="219.30" y1="95.90" x2="219.30" y2="122.00" stroke="#2b4b8b" stroke-width="1.0"/>
<line x1="216.80" y1="95.90" x2="221.80" y2="95.90" stroke="#2b4b8b" stroke-width="1.0"/>
<line x1="216.80" y1="122.00" x2="221.80" y2="122.00" stroke="#2b4b8b" stroke-width="1.0"/>
<rect x="234.70" y="84.50" width="3.80" height="3.80" fill="none" stroke="#b5133b" stroke-width="0.8"/>
<rect x="234.70" y="90.80" width="3.80" height="3.80" fill="none" stroke="#b5133b" stroke-width="0.8"/>
<rect x="234.70" y="95.10" width="3.80" height="3.80" fill="none" stroke="#b5133b" stroke-width="0.8"/>
<rect x="238.90" y="95.32" width="3.80" height="3.80" fill="none" stroke="#b5133b" stroke-width="0.8"/>
<rect x="236.10" y="98.09" width="3.80" height="3.80" fill="none" stroke="#b5133b" stroke-width="0.8"/>
<rect x="233.30" y="99.91" width="3.80" height="3.80" fill="none" stroke="#b5133b" stroke-width="0.8"/>
<rect x="236.10" y="101.17" width="3.80" height="3.80" fill="none" stroke="#b5133b" stroke-width="0.8"/>
<rect x="230.50" y="102.01" width="3.80" height="3.80" fill="none" stroke="#b5133b" stroke-width="0.8"/>
<rect x="233.30" y="103.33" width="3.80" height="3.80" fill="none" stroke="#b5133b" stroke-width="0.8"/>
<rect x="236.10" y="105.11" width="3.80" height="3.80" fill="none" stroke="#b5133b" stroke-width="0.8"/>
<rect x="233.30" y="107.48" width="3.80" height="3.80" fill="none" stroke="#b5133b" stroke-width="0.8"/>
<rect x="236.10" y="108.70" width="3.80" height="3.80" fill="none" stroke="#b5133b" stroke-width="0.8"/>
<rect x="248.30" y="85.90" width="3.80" height="3.80" fill="none" stroke="#2b4b8b" stroke-width="0.8"/>
<rect x="248.30" y="90.72" width="3.80" height="3.80" fill="none" stroke="#2b4b8b" stroke-width="0.8"/>
<rect x="252.50" y="90.80" width="3.80" height="3.80" fill="none" stroke="#2b4b8b" stroke-width="0.8"/>
<rect x="249.70" y="93.66" width="3.80" height="3.80" fill="none" stroke="#2b4b8b" stroke-width="0.8"/>
<rect x="246.90" y="95.83" width="3.80" height="3.80" fill="none" stroke="#2b4b8b" stroke-width="0.8"/>
<rect x="251.10" y="97.34" width="3.80" height="3.80" fill="none" stroke="#2b4b8b" stroke-width="0.8"/>
<rect x="245.50" y="98.71" width="3.80" height="3.80" fill="none" stroke="#2b4b8b" stroke-width="0.8"/>
<rect x="252.60" y="99.52" width="3.80" height="3.80" fill="none" stroke="#2b4b8b" stroke-width="0.8"/>
<rect x="248.30" y="101.16" width="3.80" height="3.80" fill="none" stroke="#2b4b8b" stroke-width="0.8"/>
<rect x="244.10" y="102.57" width="3.80" height="3.80" fill="none" stroke="#2b4b8b" stroke-width="0.8"/>
<rect x="249.70" y="104.07" width="3.80" height="3.80" fill="none" stroke="#2b4b8b" stroke-width="0.8"/>
<rect x="248.30" y="107.55" width="3.80" height="3.80" fill="none" stroke="#2b4b8b" stroke-width="0.8"/>
<rect x="252.50" y="108.70" width="3.80" height="3.80" fill="none" stroke="#2b4b8b" stroke-width="0.8"/>
<line x1="167.10" y1="34.00" x2="167.10" y2="127.80" stroke="#111" stroke-width="1.7"/>
<line x1="164.00" y1="36.30" x2="167.00" y2="36.30" stroke="#111" stroke-width="1.2"/>
<text x="161.50" y="38.50" font-size="6.40" text-anchor="end" fill="#111" stroke="#111" stroke-width="0.2">80</text>
<line x1="164.00" y1="59.20" x2="167.00" y2="59.20" stroke="#111" stroke-width="1.2"/>
<text x="161.50" y="61.40" font-size="6.40" text-anchor="end" fill="#111" stroke="#111" stroke-width="0.2">60</text>
<line x1="164.00" y1="82.00" x2="167.00" y2="82.00" stroke="#111" stroke-width="1.2"/>
<text x="161.50" y="84.20" font-size="6.40" text-anchor="end" fill="#111" stroke="#111" stroke-width="0.2">40</text>
<line x1="164.00" y1="104.50" x2="167.00" y2="104.50" stroke="#111" stroke-width="1.2"/>
<text x="161.50" y="106.70" font-size="6.40" text-anchor="end" fill="#111" stroke="#111" stroke-width="0.2">20</text>
<line x1="164.00" y1="127.20" x2="167.00" y2="127.20" stroke="#111" stroke-width="1.2"/>
<text x="161.50" y="129.40" font-size="6.40" text-anchor="end" fill="#111" stroke="#111" stroke-width="0.2">0</text>
<line x1="167.00" y1="127.50" x2="258.70" y2="127.50" stroke="#111" stroke-width="1.7"/>
<line x1="175.80" y1="127.50" x2="175.80" y2="130.50" stroke="#111" stroke-width="1.2"/>
<line x1="189.30" y1="127.50" x2="189.30" y2="130.50" stroke="#111" stroke-width="1.2"/>
<line x1="205.80" y1="127.50" x2="205.80" y2="130.50" stroke="#111" stroke-width="1.2"/>
<line x1="219.30" y1="127.50" x2="219.30" y2="130.50" stroke="#111" stroke-width="1.2"/>
<line x1="237.50" y1="127.50" x2="237.50" y2="130.50" stroke="#111" stroke-width="1.2"/>
<line x1="251.30" y1="127.50" x2="251.30" y2="130.50" stroke="#111" stroke-width="1.2"/>
<text x="179.20" y="136.80" font-size="7.00" text-anchor="end" fill="#222" stroke="#222" stroke-width="0.2" transform="rotate(-45 179.20 136.80)" textLength="11.50" lengthAdjust="spacingAndGlyphs">Solv</text>
<text x="192.70" y="136.80" font-size="7.00" text-anchor="end" fill="#222" stroke="#222" stroke-width="0.2" transform="rotate(-45 192.70 136.80)" textLength="14.00" lengthAdjust="spacingAndGlyphs">PR73</text>
<text x="209.20" y="136.80" font-size="7.00" text-anchor="end" fill="#222" stroke="#222" stroke-width="0.2" transform="rotate(-45 209.20 136.80)" textLength="11.50" lengthAdjust="spacingAndGlyphs">Solv</text>
<text x="222.70" y="136.80" font-size="7.00" text-anchor="end" fill="#222" stroke="#222" stroke-width="0.2" transform="rotate(-45 222.70 136.80)" textLength="14.00" lengthAdjust="spacingAndGlyphs">PR73</text>
<text x="240.90" y="136.80" font-size="7.00" text-anchor="end" fill="#222" stroke="#222" stroke-width="0.2" transform="rotate(-45 240.90 136.80)" textLength="11.50" lengthAdjust="spacingAndGlyphs">Solv</text>
<text x="254.70" y="136.80" font-size="7.00" text-anchor="end" fill="#222" stroke="#222" stroke-width="0.2" transform="rotate(-45 254.70 136.80)" textLength="14.00" lengthAdjust="spacingAndGlyphs">PR73</text>
<text x="272.00" y="15.00" font-size="11.43" font-weight="bold" fill="#000" stroke="#000" stroke-width="0.3" textLength="7.90" lengthAdjust="spacingAndGlyphs">D</text>
<text x="320.40" y="28.30" font-size="8.57" font-weight="normal" fill="#111" stroke="#111" stroke-width="0.2" textLength="52.90" lengthAdjust="spacingAndGlyphs">Placenta TFR1</text>
<rect x="355.00" y="34.50" width="29.70" height="92.70" fill="#e0e0e2"/>
<text x="278.60" y="79.70" font-size="7.60" text-anchor="middle" fill="#111" stroke="#111" stroke-width="0.2" transform="rotate(-90 278.60 79.70)" textLength="71.20" lengthAdjust="spacingAndGlyphs">TFR1 protein expression</text>
<text x="287.30" y="78.10" font-size="7.60" text-anchor="middle" fill="#111" stroke="#111" stroke-width="0.2" transform="rotate(-90 287.30 78.10)" textLength="55.80" lengthAdjust="spacingAndGlyphs">(relative to GAPDH)</text>
<text x="321.00" y="43.20" font-size="5.43" font-weight="normal" fill="#222" stroke="#222" stroke-width="0.06" textLength="19.80" lengthAdjust="spacingAndGlyphs">P&lt;0.001</text>
<line x1="317.30" y1="46.90" x2="343.80" y2="46.90" stroke="#333" stroke-width="1.3"/>
<text x="314.80" y="57.00" font-size="5.86" font-weight="normal" fill="#222" stroke="#222" stroke-width="0.06" textLength="19.80" lengthAdjust="spacingAndGlyphs">P=0.167</text>
<line x1="317.30" y1="61.30" x2="331.90" y2="61.30" stroke="#333" stroke-width="1.3"/>
<text x="360.10" y="67.20" font-size="5.14" font-weight="normal" fill="#222" stroke="#222" stroke-width="0.06" textLength="21.10" lengthAdjust="spacingAndGlyphs">P=0.614</text>
<line x1="362.20" y1="69.30" x2="376.90" y2="69.30" stroke="#333" stroke-width="1.3"/>
<text x="312.00" y="125.80" font-size="4.57" font-weight="normal" fill="#222" stroke="#222" stroke-width="0.06" textLength="9.30" lengthAdjust="spacingAndGlyphs">n=4</text>
<text x="331.10" y="125.80" font-size="4.57" font-weight="normal" fill="#222" stroke="#222" stroke-width="0.06" textLength="2.90" lengthAdjust="spacingAndGlyphs">4</text>
<text x="343.60" y="125.80" font-size="4.57" font-weight="normal" fill="#222" stroke="#222" stroke-width="0.06" textLength="2.90" lengthAdjust="spacingAndGlyphs">4</text>
<text x="361.90" y="125.80" font-size="4.57" font-weight="normal" fill="#222" stroke="#222" stroke-width="0.06" textLength="2.90" lengthAdjust="spacingAndGlyphs">4</text>
<text x="374.10" y="125.80" font-size="4.57" font-weight="normal" fill="#222" stroke="#222" stroke-width="0.06" textLength="2.90" lengthAdjust="spacingAndGlyphs">5</text>
<path d="M316.30 87.51L318.39 91.17L314.21 91.17Z" fill="none" stroke="#b5133b" stroke-width="0.95"/>
<circle cx="316.30" cy="93.70" r="1.90" fill="none" stroke="#b5133b" stroke-width="0.95"/>
<circle cx="320.90" cy="90.80" r="1.90" fill="none" stroke="#b5133b" stroke-width="0.95"/>
<path d="M324.60 88.91L326.69 92.57L322.51 92.57Z" fill="none" stroke="#b5133b" stroke-width="0.95"/>
<line x1="314.50" y1="91.90" x2="326.50" y2="91.90" stroke="#b5133b" stroke-width="1.1"/>
<circle cx="328.80" cy="79.30" r="1.90" fill="none" stroke="#2b4b8b" stroke-width="0.95"/>
<circle cx="336.20" cy="78.60" r="1.90" fill="none" stroke="#2b4b8b" stroke-width="0.95"/>
<circle cx="336.20" cy="83.00" r="1.90" fill="none" stroke="#2b4b8b" stroke-width="0.95"/>
<circle cx="332.50" cy="96.60" r="1.90" fill="none" stroke="#2b4b8b" stroke-width="0.95"/>
<line x1="328.10" y1="84.70" x2="337.50" y2="84.70" stroke="#2b4b8b" stroke-width="1.1"/>
<line x1="332.80" y1="76.10" x2="332.80" y2="92.40" stroke="#2b4b8b" stroke-width="1.1"/>
<line x1="329.70" y1="76.10" x2="335.90" y2="76.10" stroke="#2b4b8b" stroke-width="1.1"/>
<line x1="329.70" y1="92.40" x2="335.90" y2="92.40" stroke="#2b4b8b" stroke-width="1.1"/>
<path d="M349.00 59.10L351.20 62.95L346.80 62.95Z" fill="none" stroke="#2b4b8b" stroke-width="0.95"/>
<path d="M341.30 62.80L343.50 66.65L339.10 66.65Z" fill="none" stroke="#2b4b8b" stroke-width="0.95"/>
<path d="M349.00 66.10L351.20 69.95L346.80 69.95Z" fill="none" stroke="#2b4b8b" stroke-width="0.95"/>
<path d="M344.80 70.30L347.00 74.15L342.60 74.15Z" fill="none" stroke="#2b4b8b" stroke-width="0.95"/>
<line x1="340.50" y1="66.30" x2="349.50" y2="66.30" stroke="#2b4b8b" stroke-width="1.0"/>
<line x1="345.00" y1="62.50" x2="345.00" y2="70.50" stroke="#2b4b8b" stroke-width="1.0"/>
<line x1="342.50" y1="62.50" x2="347.50" y2="62.50" stroke="#2b4b8b" stroke-width="1.0"/>
<line x1="342.50" y1="70.50" x2="347.50" y2="70.50" stroke="#2b4b8b" stroke-width="1.0"/>
<rect x="357.40" y="75.10" width="4.00" height="4.00" fill="none" stroke="#b5133b" stroke-width="0.95"/>
<rect x="365.40" y="75.10" width="4.00" height="4.00" fill="none" stroke="#b5133b" stroke-width="0.95"/>
<rect x="361.40" y="93.30" width="4.00" height="4.00" fill="none" stroke="#b5133b" stroke-width="0.95"/>
<rect x="361.40" y="111.80" width="4.00" height="4.00" fill="none" stroke="#b5133b" stroke-width="0.95"/>
<line x1="358.40" y1="91.30" x2="368.40" y2="91.30" stroke="#b5133b" stroke-width="1.1"/>
<line x1="363.40" y1="73.20" x2="363.40" y2="108.80" stroke="#b5133b" stroke-width="1.1"/>
<line x1="360.60" y1="73.20" x2="366.20" y2="73.20" stroke="#b5133b" stroke-width="1.1"/>
<line x1="360.60" y1="108.80" x2="366.20" y2="108.80" stroke="#b5133b" stroke-width="1.1"/>
<rect x="373.50" y="74.60" width="4.00" height="4.00" fill="none" stroke="#2b4b8b" stroke-width="0.95"/>
<rect x="373.50" y="85.80" width="4.00" height="4.00" fill="none" stroke="#2b4b8b" stroke-width="0.95"/>
<rect x="373.50" y="99.30" width="4.00" height="4.00" fill="none" stroke="#2b4b8b" stroke-width="0.95"/>
<rect x="373.50" y="103.60" width="4.00" height="4.00" fill="none" stroke="#2b4b8b" stroke-width="0.95"/>
<rect x="373.50" y="114.30" width="4.00" height="4.00" fill="none" stroke="#2b4b8b" stroke-width="0.95"/>
<line x1="370.50" y1="97.00" x2="380.50" y2="97.00" stroke="#2b4b8b" stroke-width="1.1"/>
<line x1="375.50" y1="82.00" x2="375.50" y2="113.00" stroke="#2b4b8b" stroke-width="1.1"/>
<line x1="372.70" y1="82.00" x2="378.30" y2="82.00" stroke="#2b4b8b" stroke-width="1.1"/>
<line x1="372.70" y1="113.00" x2="378.30" y2="113.00" stroke="#2b4b8b" stroke-width="1.1"/>
<line x1="308.90" y1="34.00" x2="308.90" y2="127.80" stroke="#111" stroke-width="1.7"/>
<line x1="305.80" y1="36.30" x2="308.80" y2="36.30" stroke="#111" stroke-width="1.2"/>
<text x="303.50" y="38.50" font-size="6.50" text-anchor="end" fill="#111" stroke="#111" stroke-width="0.2">2.5</text>
<line x1="305.80" y1="54.50" x2="308.80" y2="54.50" stroke="#111" stroke-width="1.2"/>
<text x="303.50" y="56.70" font-size="6.50" text-anchor="end" fill="#111" stroke="#111" stroke-width="0.2">2.0</text>
<line x1="305.80" y1="72.80" x2="308.80" y2="72.80" stroke="#111" stroke-width="1.2"/>
<text x="303.50" y="75.00" font-size="6.50" text-anchor="end" fill="#111" stroke="#111" stroke-width="0.2">1.5</text>
<line x1="305.80" y1="91.00" x2="308.80" y2="91.00" stroke="#111" stroke-width="1.2"/>
<text x="303.50" y="93.20" font-size="6.50" text-anchor="end" fill="#111" stroke="#111" stroke-width="0.2">1.0</text>
<line x1="305.80" y1="109.20" x2="308.80" y2="109.20" stroke="#111" stroke-width="1.2"/>
<text x="303.50" y="111.40" font-size="6.50" text-anchor="end" fill="#111" stroke="#111" stroke-width="0.2">0.5</text>
<line x1="305.80" y1="127.20" x2="308.80" y2="127.20" stroke="#111" stroke-width="1.2"/>
<text x="303.50" y="129.40" font-size="6.50" text-anchor="end" fill="#111" stroke="#111" stroke-width="0.2">0.0</text>
<line x1="308.80" y1="127.50" x2="386.00" y2="127.50" stroke="#111" stroke-width="1.7"/>
<line x1="320.20" y1="127.50" x2="320.20" y2="130.50" stroke="#111" stroke-width="1.2"/>
<line x1="332.50" y1="127.50" x2="332.50" y2="130.50" stroke="#111" stroke-width="1.2"/>
<line x1="345.20" y1="127.50" x2="345.20" y2="130.50" stroke="#111" stroke-width="1.2"/>
<line x1="363.20" y1="127.50" x2="363.20" y2="130.50" stroke="#111" stroke-width="1.2"/>
<line x1="375.40" y1="127.50" x2="375.40" y2="130.50" stroke="#111" stroke-width="1.2"/>
<text x="323.70" y="137.40" font-size="7.20" text-anchor="end" fill="#222" stroke="#222" stroke-width="0.2" transform="rotate(-45 323.70 137.40)" textLength="11.60" lengthAdjust="spacingAndGlyphs">Solv</text>
<text x="336.00" y="137.40" font-size="7.20" text-anchor="end" fill="#222" stroke="#222" stroke-width="0.2" transform="rotate(-45 336.00 137.40)" textLength="17.00" lengthAdjust="spacingAndGlyphs">50-6d</text>
<text x="348.70" y="137.40" font-size="7.20" text-anchor="end" fill="#222" stroke="#222" stroke-width="0.2" transform="rotate(-45 348.70 137.40)" textLength="21.00" lengthAdjust="spacingAndGlyphs">50-11d</text>
<text x="366.70" y="137.40" font-size="7.20" text-anchor="end" fill="#222" stroke="#222" stroke-width="0.2" transform="rotate(-45 366.70 137.40)" textLength="11.60" lengthAdjust="spacingAndGlyphs">Solv</text>
<text x="378.90" y="137.40" font-size="7.20" text-anchor="end" fill="#222" stroke="#222" stroke-width="0.2" transform="rotate(-45 378.90 137.40)" textLength="21.40" lengthAdjust="spacingAndGlyphs">10-11d</text>
<text x="398.80" y="17.80" font-size="11.71" font-weight="bold" fill="#000" stroke="#000" stroke-width="0.3" textLength="6.10" lengthAdjust="spacingAndGlyphs">E</text>
<text x="448.80" y="28.40" font-size="8.29" font-weight="normal" fill="#111" stroke="#111" stroke-width="0.2" textLength="51.20" lengthAdjust="spacingAndGlyphs">Placenta FPN</text>
<rect x="483.00" y="34.50" width="29.10" height="92.70" fill="#e0e0e2"/>
<text x="404.80" y="79.20" font-size="7.60" text-anchor="middle" fill="#111" stroke="#111" stroke-width="0.2" transform="rotate(-90 404.80 79.20)" textLength="70.50" lengthAdjust="spacingAndGlyphs">FPN protein expression</text>
<text x="413.30" y="78.10" font-size="7.60" text-anchor="middle" fill="#111" stroke="#111" stroke-width="0.2" transform="rotate(-90 413.30 78.10)" textLength="55.80" lengthAdjust="spacingAndGlyphs">(relative to GAPDH)</text>
<text x="447.70" y="44.50" font-size="5.00" font-weight="normal" fill="#222" stroke="#222" stroke-width="0.06" textLength="20.10" lengthAdjust="spacingAndGlyphs">P=0.024</text>
<path d="M468.31 40.40L468.12 42.60M469.06 40.40L468.87 42.60M467.60 41.13H469.47M467.60 41.90H469.47" stroke="#333" stroke-width="0.55" fill="none"/>
<line x1="445.50" y1="46.80" x2="472.50" y2="46.80" stroke="#333" stroke-width="1.3"/>
<text x="442.00" y="56.80" font-size="5.29" font-weight="normal" fill="#222" stroke="#222" stroke-width="0.06" textLength="19.40" lengthAdjust="spacingAndGlyphs">P=0.021</text>
<path d="M462.34 52.20L462.15 54.50M463.12 52.20L462.93 54.50M461.60 52.96H463.56M461.60 53.76H463.56" stroke="#333" stroke-width="0.55" fill="none"/>
<line x1="445.50" y1="60.80" x2="460.50" y2="60.80" stroke="#333" stroke-width="1.3"/>
<text x="486.50" y="59.10" font-size="5.57" font-weight="normal" fill="#222" stroke="#222" stroke-width="0.06" textLength="20.60" lengthAdjust="spacingAndGlyphs">P=0.241</text>
<line x1="490.50" y1="61.30" x2="505.50" y2="61.30" stroke="#333" stroke-width="1.3"/>
<text x="438.80" y="125.80" font-size="4.57" font-weight="normal" fill="#222" stroke="#222" stroke-width="0.06" textLength="9.20" lengthAdjust="spacingAndGlyphs">n=4</text>
<text x="458.10" y="125.80" font-size="4.57" font-weight="normal" fill="#222" stroke="#222" stroke-width="0.06" textLength="2.90" lengthAdjust="spacingAndGlyphs">4</text>
<text x="469.80" y="125.80" font-size="4.57" font-weight="normal" fill="#222" stroke="#222" stroke-width="0.06" textLength="2.90" lengthAdjust="spacingAndGlyphs">4</text>
<text x="488.60" y="125.80" font-size="4.57" font-weight="normal" fill="#222" stroke="#222" stroke-width="0.06" textLength="2.90" lengthAdjust="spacingAndGlyphs">4</text>
<text x="501.00" y="125.80" font-size="4.57" font-weight="normal" fill="#222" stroke="#222" stroke-width="0.06" textLength="3.00" lengthAdjust="spacingAndGlyphs">5</text>
<line x1="440.80" y1="79.90" x2="452.60" y2="79.90" stroke="#b5133b" stroke-width="1.1"/>
<line x1="446.70" y1="64.80" x2="446.70" y2="89.00" stroke="#b5133b" stroke-width="1.1"/>
<line x1="444.50" y1="64.80" x2="448.90" y2="64.80" stroke="#b5133b" stroke-width="1.1"/>
<line x1="444.50" y1="89.00" x2="448.90" y2="89.00" stroke="#b5133b" stroke-width="1.1"/>
<circle cx="446.70" cy="66.30" r="1.90" fill="none" stroke="#b5133b" stroke-width="0.95"/>
<circle cx="446.70" cy="72.90" r="1.90" fill="none" stroke="#b5133b" stroke-width="0.95"/>
<path d="M446.70 86.61L448.79 90.27L444.61 90.27Z" fill="none" stroke="#b5133b" stroke-width="0.95"/>
<path d="M446.70 90.21L448.79 93.87L444.61 93.87Z" fill="none" stroke="#b5133b" stroke-width="0.95"/>
<circle cx="455.10" cy="104.70" r="1.90" fill="none" stroke="#2b4b8b" stroke-width="0.9"/>
<circle cx="455.10" cy="108.80" r="1.90" fill="none" stroke="#2b4b8b" stroke-width="0.9"/>
<circle cx="459.60" cy="105.40" r="1.90" fill="none" stroke="#2b4b8b" stroke-width="0.9"/>
<circle cx="463.50" cy="105.40" r="1.90" fill="none" stroke="#2b4b8b" stroke-width="0.9"/>
<line x1="454.00" y1="105.40" x2="465.00" y2="105.40" stroke="#2b4b8b" stroke-width="1.1"/>
<path d="M471.60 93.80L473.80 97.65L469.40 97.65Z" fill="none" stroke="#2b4b8b" stroke-width="0.9"/>
<path d="M467.50 105.00L469.70 108.85L465.30 108.85Z" fill="none" stroke="#2b4b8b" stroke-width="0.9"/>
<path d="M471.50 104.00L473.70 107.85L469.30 107.85Z" fill="none" stroke="#2b4b8b" stroke-width="0.9"/>
<path d="M475.70 104.60L477.90 108.45L473.50 108.45Z" fill="none" stroke="#2b4b8b" stroke-width="0.9"/>
<line x1="466.00" y1="103.00" x2="477.00" y2="103.00" stroke="#2b4b8b" stroke-width="1.1"/>
<line x1="471.60" y1="97.50" x2="471.60" y2="108.00" stroke="#2b4b8b" stroke-width="1.0"/>
<rect x="484.00" y="74.20" width="4.00" height="4.00" fill="none" stroke="#b5133b" stroke-width="0.95"/>
<rect x="491.30" y="70.30" width="4.00" height="4.00" fill="none" stroke="#b5133b" stroke-width="0.95"/>
<rect x="491.30" y="76.80" width="4.00" height="4.00" fill="none" stroke="#b5133b" stroke-width="0.95"/>
<rect x="487.70" y="93.00" width="4.00" height="4.00" fill="none" stroke="#b5133b" stroke-width="0.95"/>
<line x1="484.30" y1="81.40" x2="495.10" y2="81.40" stroke="#b5133b" stroke-width="1.1"/>
<line x1="489.70" y1="71.10" x2="489.70" y2="90.80" stroke="#b5133b" stroke-width="1.1"/>
<line x1="486.90" y1="71.10" x2="492.50" y2="71.10" stroke="#b5133b" stroke-width="1.1"/>
<line x1="486.90" y1="90.80" x2="492.50" y2="90.80" stroke="#b5133b" stroke-width="1.1"/>
<rect x="500.20" y="65.20" width="4.00" height="4.00" fill="none" stroke="#2b4b8b" stroke-width="0.95"/>
<circle cx="501.90" cy="87.40" r="2.00" fill="none" stroke="#2b4b8b" stroke-width="0.95"/>
<rect x="497.10" y="97.30" width="4.00" height="4.00" fill="none" stroke="#2b4b8b" stroke-width="0.95"/>
<rect x="505.00" y="99.00" width="4.00" height="4.00" fill="none" stroke="#2b4b8b" stroke-width="0.95"/>
<rect x="497.10" y="101.60" width="4.00" height="4.00" fill="none" stroke="#2b4b8b" stroke-width="0.95"/>
<line x1="496.90" y1="92.10" x2="508.10" y2="92.10" stroke="#2b4b8b" stroke-width="1.1"/>
<line x1="502.50" y1="77.10" x2="502.50" y2="107.00" stroke="#2b4b8b" stroke-width="1.1"/>
<line x1="499.70" y1="77.10" x2="505.30" y2="77.10" stroke="#2b4b8b" stroke-width="1.1"/>
<line x1="499.70" y1="107.00" x2="505.30" y2="107.00" stroke="#2b4b8b" stroke-width="1.1"/>
<line x1="435.10" y1="34.00" x2="435.10" y2="127.80" stroke="#111" stroke-width="1.7"/>
<line x1="432.00" y1="36.30" x2="435.00" y2="36.30" stroke="#111" stroke-width="1.2"/>
<text x="430.00" y="38.50" font-size="6.50" text-anchor="end" fill="#111" stroke="#111" stroke-width="0.2">2.0</text>
<line x1="432.00" y1="59.20" x2="435.00" y2="59.20" stroke="#111" stroke-width="1.2"/>
<text x="430.00" y="61.40" font-size="6.50" text-anchor="end" fill="#111" stroke="#111" stroke-width="0.2">1.5</text>
<line x1="432.00" y1="81.80" x2="435.00" y2="81.80" stroke="#111" stroke-width="1.2"/>
<text x="430.00" y="84.00" font-size="6.50" text-anchor="end" fill="#111" stroke="#111" stroke-width="0.2">1.0</text>
<line x1="432.00" y1="104.50" x2="435.00" y2="104.50" stroke="#111" stroke-width="1.2"/>
<text x="430.00" y="106.70" font-size="6.50" text-anchor="end" fill="#111" stroke="#111" stroke-width="0.2">0.5</text>
<line x1="432.00" y1="127.20" x2="435.00" y2="127.20" stroke="#111" stroke-width="1.2"/>
<text x="430.00" y="129.40" font-size="6.50" text-anchor="end" fill="#111" stroke="#111" stroke-width="0.2">0.0</text>
<line x1="435.00" y1="127.50" x2="513.00" y2="127.50" stroke="#111" stroke-width="1.7"/>
<line x1="447.00" y1="127.50" x2="447.00" y2="130.50" stroke="#111" stroke-width="1.2"/>
<line x1="459.50" y1="127.50" x2="459.50" y2="130.50" stroke="#111" stroke-width="1.2"/>
<line x1="471.30" y1="127.50" x2="471.30" y2="130.50" stroke="#111" stroke-width="1.2"/>
<line x1="490.00" y1="127.50" x2="490.00" y2="130.50" stroke="#111" stroke-width="1.2"/>
<line x1="502.50" y1="127.50" x2="502.50" y2="130.50" stroke="#111" stroke-width="1.2"/>
<text x="450.50" y="137.40" font-size="7.20" text-anchor="end" fill="#222" stroke="#222" stroke-width="0.2" transform="rotate(-45 450.50 137.40)" textLength="11.60" lengthAdjust="spacingAndGlyphs">Solv</text>
<text x="463.00" y="137.40" font-size="7.20" text-anchor="end" fill="#222" stroke="#222" stroke-width="0.2" transform="rotate(-45 463.00 137.40)" textLength="17.00" lengthAdjust="spacingAndGlyphs">50-6d</text>
<text x="474.80" y="137.40" font-size="7.20" text-anchor="end" fill="#222" stroke="#222" stroke-width="0.2" transform="rotate(-45 474.80 137.40)" textLength="21.00" lengthAdjust="spacingAndGlyphs">50-11d</text>
<text x="493.50" y="137.40" font-size="7.20" text-anchor="end" fill="#222" stroke="#222" stroke-width="0.2" transform="rotate(-45 493.50 137.40)" textLength="11.60" lengthAdjust="spacingAndGlyphs">Solv</text>
<text x="506.00" y="137.40" font-size="7.20" text-anchor="end" fill="#222" stroke="#222" stroke-width="0.2" transform="rotate(-45 506.00 137.40)" textLength="21.40" lengthAdjust="spacingAndGlyphs">10-11d</text>
<text x="331.90" y="177.80" font-size="12.43" font-weight="bold" fill="#000" stroke="#000" stroke-width="0.3" textLength="6.10" lengthAdjust="spacingAndGlyphs">F</text>
<text x="390.50" y="191.30" font-size="8.29" font-weight="normal" fill="#111" stroke="#111" stroke-width="0.2" textLength="15.80" lengthAdjust="spacingAndGlyphs">PIDI</text>
<rect x="407.30" y="197.00" width="29.50" height="93.00" fill="#e0e0e2"/>
<text x="339.90" y="242.40" font-size="7.60" text-anchor="middle" fill="#111" stroke="#111" stroke-width="0.2" transform="rotate(-90 339.90 242.40)" textLength="12.50" lengthAdjust="spacingAndGlyphs">PIDI</text>
<text x="372.00" y="212.30" font-size="5.00" font-weight="normal" fill="#222" stroke="#222" stroke-width="0.06" textLength="20.40" lengthAdjust="spacingAndGlyphs">P=0.016</text>
<path d="M393.51 207.00L393.30 209.50M394.36 207.00L394.14 209.50M392.70 207.82H394.82M392.70 208.70H394.82" stroke="#333" stroke-width="0.55" fill="none"/>
<line x1="370.00" y1="217.00" x2="397.00" y2="217.00" stroke="#333" stroke-width="1.3"/>
<text x="365.90" y="226.80" font-size="5.86" font-weight="normal" fill="#222" stroke="#222" stroke-width="0.06" textLength="20.00" lengthAdjust="spacingAndGlyphs">P=0.023</text>
<path d="M386.91 220.70L386.70 223.20M387.76 220.70L387.55 223.20M386.10 221.52H388.23M386.10 222.40H388.23" stroke="#333" stroke-width="0.55" fill="none"/>
<line x1="370.00" y1="231.20" x2="384.60" y2="231.20" stroke="#333" stroke-width="1.3"/>
<text x="413.00" y="211.20" font-size="5.43" font-weight="normal" fill="#222" stroke="#222" stroke-width="0.06" textLength="20.40" lengthAdjust="spacingAndGlyphs">P=0.556</text>
<line x1="415.00" y1="213.30" x2="429.50" y2="213.30" stroke="#333" stroke-width="1.3"/>
<text x="361.30" y="288.50" font-size="5.00" font-weight="normal" fill="#222" stroke="#222" stroke-width="0.06" textLength="11.20" lengthAdjust="spacingAndGlyphs">n=4</text>
<text x="382.40" y="288.50" font-size="5.00" font-weight="normal" fill="#222" stroke="#222" stroke-width="0.06" textLength="2.90" lengthAdjust="spacingAndGlyphs">4</text>
<text x="394.30" y="288.50" font-size="5.00" font-weight="normal" fill="#222" stroke="#222" stroke-width="0.06" textLength="2.90" lengthAdjust="spacingAndGlyphs">4</text>
<text x="412.30" y="288.50" font-size="5.00" font-weight="normal" fill="#222" stroke="#222" stroke-width="0.06" textLength="2.90" lengthAdjust="spacingAndGlyphs">4</text>
<text x="425.50" y="288.50" font-size="5.00" font-weight="normal" fill="#222" stroke="#222" stroke-width="0.06" textLength="2.90" lengthAdjust="spacingAndGlyphs">5</text>
<line x1="365.90" y1="251.70" x2="377.10" y2="251.70" stroke="#b5133b" stroke-width="1.1"/>
<line x1="371.50" y1="240.20" x2="371.50" y2="260.40" stroke="#b5133b" stroke-width="1.1"/>
<line x1="369.00" y1="240.20" x2="374.00" y2="240.20" stroke="#b5133b" stroke-width="1.1"/>
<line x1="369.00" y1="260.40" x2="374.00" y2="260.40" stroke="#b5133b" stroke-width="1.1"/>
<circle cx="371.50" cy="238.10" r="1.90" fill="none" stroke="#b5133b" stroke-width="0.95"/>
<circle cx="371.50" cy="246.80" r="1.90" fill="none" stroke="#b5133b" stroke-width="0.95"/>
<path d="M367.50 259.71L369.59 263.37L365.41 263.37Z" fill="none" stroke="#b5133b" stroke-width="0.95"/>
<path d="M375.20 258.91L377.29 262.57L373.11 262.57Z" fill="none" stroke="#b5133b" stroke-width="0.95"/>
<circle cx="379.10" cy="272.60" r="1.90" fill="none" stroke="#2b4b8b" stroke-width="0.9"/>
<circle cx="379.10" cy="277.40" r="1.90" fill="none" stroke="#2b4b8b" stroke-width="0.9"/>
<circle cx="384.00" cy="275.30" r="1.90" fill="none" stroke="#2b4b8b" stroke-width="0.9"/>
<circle cx="388.30" cy="276.00" r="1.90" fill="none" stroke="#2b4b8b" stroke-width="0.9"/>
<line x1="380.50" y1="275.60" x2="390.50" y2="275.60" stroke="#2b4b8b" stroke-width="1.1"/>
<path d="M399.70 273.71L401.79 277.37L397.61 277.37Z" fill="none" stroke="#2b4b8b" stroke-width="0.9"/>
<path d="M390.60 279.31L392.69 282.97L388.51 282.97Z" fill="none" stroke="#2b4b8b" stroke-width="0.9"/>
<path d="M395.50 277.11L397.59 280.77L393.41 280.77Z" fill="none" stroke="#2b4b8b" stroke-width="0.9"/>
<path d="M400.60 279.31L402.69 282.97L398.51 282.97Z" fill="none" stroke="#2b4b8b" stroke-width="0.9"/>
<line x1="390.00" y1="278.90" x2="402.00" y2="278.90" stroke="#2b4b8b" stroke-width="1.1"/>
<line x1="395.80" y1="276.80" x2="395.80" y2="281.00" stroke="#2b4b8b" stroke-width="1.0"/>
<line x1="408.70" y1="246.60" x2="419.50" y2="246.60" stroke="#b5133b" stroke-width="1.1"/>
<line x1="414.10" y1="227.70" x2="414.10" y2="264.80" stroke="#b5133b" stroke-width="1.1"/>
<line x1="411.30" y1="227.70" x2="416.90" y2="227.70" stroke="#b5133b" stroke-width="1.1"/>
<line x1="411.30" y1="264.80" x2="416.90" y2="264.80" stroke="#b5133b" stroke-width="1.1"/>
<rect x="412.10" y="217.70" width="4.00" height="4.00" fill="none" stroke="#b5133b" stroke-width="0.95"/>
<circle cx="414.10" cy="246.60" r="2.00" fill="none" stroke="#b5133b" stroke-width="0.95"/>
<rect x="408.50" y="258.40" width="4.00" height="4.00" fill="none" stroke="#b5133b" stroke-width="0.95"/>
<rect x="416.50" y="255.50" width="4.00" height="4.00" fill="none" stroke="#b5133b" stroke-width="0.95"/>
<line x1="421.60" y1="255.50" x2="432.40" y2="255.50" stroke="#2b4b8b" stroke-width="1.1"/>
<line x1="427.00" y1="240.60" x2="427.00" y2="265.80" stroke="#2b4b8b" stroke-width="1.1"/>
<line x1="424.20" y1="240.60" x2="429.80" y2="240.60" stroke="#2b4b8b" stroke-width="1.1"/>
<line x1="424.20" y1="265.80" x2="429.80" y2="265.80" stroke="#2b4b8b" stroke-width="1.1"/>
<rect x="425.00" y="229.40" width="4.00" height="4.00" fill="none" stroke="#2b4b8b" stroke-width="0.95"/>
<rect x="421.30" y="254.30" width="4.00" height="4.00" fill="none" stroke="#2b4b8b" stroke-width="0.95"/>
<rect x="429.00" y="252.40" width="4.00" height="4.00" fill="none" stroke="#2b4b8b" stroke-width="0.95"/>
<rect x="429.00" y="259.20" width="4.00" height="4.00" fill="none" stroke="#2b4b8b" stroke-width="0.95"/>
<rect x="421.30" y="261.60" width="4.00" height="4.00" fill="none" stroke="#2b4b8b" stroke-width="0.95"/>
<line x1="358.90" y1="196.50" x2="358.90" y2="290.60" stroke="#111" stroke-width="1.7"/>
<line x1="355.80" y1="198.80" x2="358.80" y2="198.80" stroke="#111" stroke-width="1.2"/>
<text x="353.30" y="201.00" font-size="6.50" text-anchor="end" fill="#111" stroke="#111" stroke-width="0.2">2.5</text>
<line x1="355.80" y1="217.00" x2="358.80" y2="217.00" stroke="#111" stroke-width="1.2"/>
<text x="353.30" y="219.20" font-size="6.50" text-anchor="end" fill="#111" stroke="#111" stroke-width="0.2">2.0</text>
<line x1="355.80" y1="235.20" x2="358.80" y2="235.20" stroke="#111" stroke-width="1.2"/>
<text x="353.30" y="237.40" font-size="6.50" text-anchor="end" fill="#111" stroke="#111" stroke-width="0.2">1.5</text>
<line x1="355.80" y1="253.30" x2="358.80" y2="253.30" stroke="#111" stroke-width="1.2"/>
<text x="353.30" y="255.50" font-size="6.50" text-anchor="end" fill="#111" stroke="#111" stroke-width="0.2">1.0</text>
<line x1="355.80" y1="271.60" x2="358.80" y2="271.60" stroke="#111" stroke-width="1.2"/>
<text x="353.30" y="273.80" font-size="6.50" text-anchor="end" fill="#111" stroke="#111" stroke-width="0.2">0.5</text>
<line x1="355.80" y1="290.00" x2="358.80" y2="290.00" stroke="#111" stroke-width="1.2"/>
<text x="353.30" y="292.20" font-size="6.50" text-anchor="end" fill="#111" stroke="#111" stroke-width="0.2">0.0</text>
<line x1="358.80" y1="290.30" x2="438.00" y2="290.30" stroke="#111" stroke-width="1.7"/>
<line x1="370.80" y1="290.30" x2="370.80" y2="293.30" stroke="#111" stroke-width="1.2"/>
<line x1="383.80" y1="290.30" x2="383.80" y2="293.30" stroke="#111" stroke-width="1.2"/>
<line x1="395.80" y1="290.30" x2="395.80" y2="293.30" stroke="#111" stroke-width="1.2"/>
<line x1="413.80" y1="290.30" x2="413.80" y2="293.30" stroke="#111" stroke-width="1.2"/>
<line x1="427.00" y1="290.30" x2="427.00" y2="293.30" stroke="#111" stroke-width="1.2"/>
<text x="374.30" y="300.10" font-size="7.20" text-anchor="end" fill="#222" stroke="#222" stroke-width="0.2" transform="rotate(-45 374.30 300.10)" textLength="11.60" lengthAdjust="spacingAndGlyphs">Solv</text>
<text x="387.30" y="300.10" font-size="7.20" text-anchor="end" fill="#222" stroke="#222" stroke-width="0.2" transform="rotate(-45 387.30 300.10)" textLength="17.00" lengthAdjust="spacingAndGlyphs">50-6d</text>
<text x="399.30" y="300.10" font-size="7.20" text-anchor="end" fill="#222" stroke="#222" stroke-width="0.2" transform="rotate(-45 399.30 300.10)" textLength="21.00" lengthAdjust="spacingAndGlyphs">50-11d</text>
<text x="417.30" y="300.10" font-size="7.20" text-anchor="end" fill="#222" stroke="#222" stroke-width="0.2" transform="rotate(-45 417.30 300.10)" textLength="11.60" lengthAdjust="spacingAndGlyphs">Solv</text>
<text x="430.50" y="300.10" font-size="7.20" text-anchor="end" fill="#222" stroke="#222" stroke-width="0.2" transform="rotate(-45 430.50 300.10)" textLength="21.40" lengthAdjust="spacingAndGlyphs">10-11d</text>
<text x="7.00" y="180.80" font-size="12.29" font-weight="bold" fill="#000" stroke="#000" stroke-width="0.3" textLength="8.10" lengthAdjust="spacingAndGlyphs">C</text>
<text x="46.90" y="189.40" font-size="6.85" font-weight="normal" fill="#222" stroke="#222" stroke-width="0.2" textLength="21.20" lengthAdjust="spacingAndGlyphs">Solvent</text>
<text x="123.10" y="189.20" font-size="6.57" font-weight="normal" fill="#222" stroke="#222" stroke-width="0.2" textLength="15.00" lengthAdjust="spacingAndGlyphs">PR73</text>
<text x="197.30" y="189.40" font-size="6.85" font-weight="normal" fill="#222" stroke="#222" stroke-width="0.2" textLength="21.20" lengthAdjust="spacingAndGlyphs">Solvent</text>
<text x="259.00" y="189.20" font-size="6.57" font-weight="normal" fill="#222" stroke="#222" stroke-width="0.2" textLength="15.00" lengthAdjust="spacingAndGlyphs">PR73</text>
<line x1="34.60" y1="194.00" x2="80.60" y2="194.00" stroke="#6a6a6a" stroke-width="1.6"/>
<line x1="84.00" y1="194.00" x2="176.90" y2="194.00" stroke="#6a6a6a" stroke-width="1.6"/>
<line x1="186.30" y1="194.00" x2="229.80" y2="194.00" stroke="#6a6a6a" stroke-width="1.6"/>
<line x1="236.60" y1="194.00" x2="296.00" y2="194.00" stroke="#6a6a6a" stroke-width="1.6"/>
<text x="36.90" y="204.00" font-size="6.58" font-weight="normal" fill="#222" stroke="#222" stroke-width="0.2" textLength="16.90" lengthAdjust="spacingAndGlyphs">50-6d</text>
<text x="59.80" y="204.00" font-size="6.58" font-weight="normal" fill="#222" stroke="#222" stroke-width="0.2" textLength="20.20" lengthAdjust="spacingAndGlyphs">50-11d</text>
<text x="97.30" y="204.00" font-size="6.58" font-weight="normal" fill="#222" stroke="#222" stroke-width="0.2" textLength="16.70" lengthAdjust="spacingAndGlyphs">50-6d</text>
<text x="144.80" y="204.00" font-size="6.58" font-weight="normal" fill="#222" stroke="#222" stroke-width="0.2" textLength="20.20" lengthAdjust="spacingAndGlyphs">50-11d</text>
<text x="198.10" y="204.00" font-size="6.58" font-weight="normal" fill="#222" stroke="#222" stroke-width="0.2" textLength="19.70" lengthAdjust="spacingAndGlyphs">10-11d</text>
<text x="256.50" y="204.00" font-size="6.58" font-weight="normal" fill="#222" stroke="#222" stroke-width="0.2" textLength="19.80" lengthAdjust="spacingAndGlyphs">10-11d</text>
<line x1="34.40" y1="209.00" x2="56.00" y2="209.00" stroke="#6a6a6a" stroke-width="1.6"/>
<line x1="59.00" y1="209.00" x2="80.60" y2="209.00" stroke="#6a6a6a" stroke-width="1.6"/>
<line x1="84.00" y1="209.00" x2="126.90" y2="209.00" stroke="#6a6a6a" stroke-width="1.6"/>
<line x1="132.20" y1="209.00" x2="177.80" y2="209.00" stroke="#6a6a6a" stroke-width="1.6"/>
<line x1="186.30" y1="209.00" x2="229.20" y2="209.00" stroke="#6a6a6a" stroke-width="1.6"/>
<line x1="236.60" y1="209.00" x2="296.00" y2="209.00" stroke="#6a6a6a" stroke-width="1.6"/>
<text x="15.10" y="224.80" font-size="6.86" font-weight="normal" fill="#222" stroke="#222" stroke-width="0.2" textLength="13.80" lengthAdjust="spacingAndGlyphs">TFR1</text>
<text x="7.10" y="244.10" font-size="6.71" font-weight="normal" fill="#222" stroke="#222" stroke-width="0.2" textLength="21.80" lengthAdjust="spacingAndGlyphs">GAPDH</text>
<text x="17.40" y="266.70" font-size="6.86" font-weight="normal" fill="#222" stroke="#222" stroke-width="0.2" textLength="12.20" lengthAdjust="spacingAndGlyphs">FPN</text>
<text x="7.20" y="284.90" font-size="6.86" font-weight="normal" fill="#222" stroke="#222" stroke-width="0.2" textLength="22.60" lengthAdjust="spacingAndGlyphs">GAPDH</text>
<text x="305.00" y="212.20" font-size="5.75" font-weight="normal" fill="#222" stroke="#222" stroke-width="0.06" textLength="10.80" lengthAdjust="spacingAndGlyphs">kDa</text>
<line x1="302.40" y1="226.40" x2="304.40" y2="226.40" stroke="#222" stroke-width="0.9"/>
<text x="305.70" y="228.40" font-size="5.71" font-weight="normal" fill="#222" stroke="#222" stroke-width="0.06" textLength="10.10" lengthAdjust="spacingAndGlyphs">100</text>
<line x1="302.40" y1="236.00" x2="304.40" y2="236.00" stroke="#222" stroke-width="0.9"/>
<text x="305.70" y="238.00" font-size="5.71" font-weight="normal" fill="#222" stroke="#222" stroke-width="0.06" textLength="7.00" lengthAdjust="spacingAndGlyphs">40</text>
<line x1="302.40" y1="245.30" x2="304.40" y2="245.30" stroke="#222" stroke-width="0.9"/>
<text x="305.70" y="247.30" font-size="5.71" font-weight="normal" fill="#222" stroke="#222" stroke-width="0.06" textLength="7.00" lengthAdjust="spacingAndGlyphs">35</text>
<line x1="302.40" y1="261.50" x2="304.40" y2="261.50" stroke="#222" stroke-width="0.9"/>
<text x="305.70" y="263.50" font-size="5.71" font-weight="normal" fill="#222" stroke="#222" stroke-width="0.06" textLength="7.20" lengthAdjust="spacingAndGlyphs">70</text>
<line x1="302.40" y1="271.00" x2="304.40" y2="271.00" stroke="#222" stroke-width="0.9"/>
<text x="305.70" y="273.00" font-size="5.71" font-weight="normal" fill="#222" stroke="#222" stroke-width="0.06" textLength="7.20" lengthAdjust="spacingAndGlyphs">50</text>
<line x1="302.40" y1="278.70" x2="304.40" y2="278.70" stroke="#222" stroke-width="0.9"/>
<text x="305.70" y="280.70" font-size="5.71" font-weight="normal" fill="#222" stroke="#222" stroke-width="0.06" textLength="7.20" lengthAdjust="spacingAndGlyphs">40</text>
<line x1="302.40" y1="287.50" x2="304.40" y2="287.50" stroke="#222" stroke-width="0.9"/>
<text x="305.70" y="289.50" font-size="5.71" font-weight="normal" fill="#222" stroke="#222" stroke-width="0.06" textLength="7.20" lengthAdjust="spacingAndGlyphs">35</text>
<defs><filter id="bl" x="-50%" y="-100%" width="200%" height="300%"><feGaussianBlur stdDeviation="0.65"/></filter><filter id="bl2" x="-50%" y="-100%" width="200%" height="300%"><feGaussianBlur stdDeviation="1.1"/></filter><filter id="bl3" x="-50%" y="-100%" width="200%" height="300%"><feGaussianBlur stdDeviation="0.85"/></filter></defs>
<rect x="32.5" y="212.4" width="148" height="16.900000000000006" fill="#f1f1f1"/>
<rect x="180.5" y="212.4" width="120.5" height="16.900000000000006" fill="#f8f8f8"/>
<rect x="34.25" y="215.00" width="10.50" height="5.00" rx="2.50" fill="rgb(224,224,224)" filter="url(#bl2)"/>
<rect x="46.25" y="215.00" width="10.50" height="5.00" rx="2.50" fill="rgb(224,224,224)" filter="url(#bl2)"/>
<rect x="58.05" y="215.00" width="10.50" height="5.00" rx="2.50" fill="rgb(224,224,224)" filter="url(#bl2)"/>
<rect x="70.25" y="215.00" width="10.50" height="5.00" rx="2.50" fill="rgb(224,224,224)" filter="url(#bl2)"/>
<rect x="82.75" y="215.00" width="10.50" height="5.00" rx="2.50" fill="rgb(224,224,224)" filter="url(#bl2)"/>
<rect x="94.55" y="215.00" width="10.50" height="5.00" rx="2.50" fill="rgb(224,224,224)" filter="url(#bl2)"/>
<rect x="107.05" y="215.00" width="10.50" height="5.00" rx="2.50" fill="rgb(224,224,224)" filter="url(#bl2)"/>
<rect x="119.45" y="215.00" width="10.50" height="5.00" rx="2.50" fill="rgb(224,224,224)" filter="url(#bl2)"/>
<rect x="132.05" y="215.00" width="10.50" height="5.00" rx="2.50" fill="rgb(224,224,224)" filter="url(#bl2)"/>
<rect x="144.55" y="215.00" width="10.50" height="5.00" rx="2.50" fill="rgb(224,224,224)" filter="url(#bl2)"/>
<rect x="156.15" y="215.00" width="10.50" height="5.00" rx="2.50" fill="rgb(224,224,224)" filter="url(#bl2)"/>
<rect x="168.75" y="215.00" width="10.50" height="5.00" rx="2.50" fill="rgb(224,224,224)" filter="url(#bl2)"/>
<rect x="33.90" y="219.10" width="11.20" height="5.00" rx="2.50" fill="rgb(38,38,38)" filter="url(#bl3)"/>
<rect x="45.90" y="219.00" width="11.20" height="5.20" rx="2.60" fill="rgb(25,25,25)" filter="url(#bl3)"/>
<rect x="57.70" y="219.50" width="11.20" height="5.00" rx="2.50" fill="rgb(38,38,38)" filter="url(#bl3)"/>
<rect x="69.90" y="217.60" width="11.20" height="6.40" rx="3.20" fill="rgb(102,102,102)" filter="url(#bl3)"/>
<rect x="82.40" y="219.70" width="11.20" height="5.80" rx="2.90" fill="rgb(13,13,13)" filter="url(#bl3)"/>
<rect x="94.20" y="220.20" width="11.20" height="5.20" rx="2.60" fill="rgb(38,38,38)" filter="url(#bl3)"/>
<rect x="106.70" y="220.20" width="11.20" height="5.20" rx="2.60" fill="rgb(31,31,31)" filter="url(#bl3)"/>
<rect x="119.10" y="219.60" width="11.20" height="5.60" rx="2.80" fill="rgb(97,97,97)" filter="url(#bl3)"/>
<rect x="131.70" y="219.60" width="11.20" height="6.40" rx="3.20" fill="rgb(0,0,0)" filter="url(#bl3)"/>
<rect x="144.20" y="220.00" width="11.20" height="5.60" rx="2.80" fill="rgb(13,13,13)" filter="url(#bl3)"/>
<rect x="155.80" y="219.40" width="11.20" height="6.40" rx="3.20" fill="rgb(0,0,0)" filter="url(#bl3)"/>
<rect x="168.40" y="219.40" width="11.20" height="6.40" rx="3.20" fill="rgb(0,0,0)" filter="url(#bl3)"/>
<rect x="182.65" y="218.80" width="9.50" height="2.40" rx="1.20" fill="rgb(166,166,166)" filter="url(#bl)"/>
<rect x="195.85" y="218.80" width="9.50" height="2.40" rx="1.20" fill="rgb(13,13,13)" filter="url(#bl)"/>
<rect x="209.15" y="218.80" width="9.50" height="2.40" rx="1.20" fill="rgb(20,20,20)" filter="url(#bl)"/>
<rect x="222.75" y="218.80" width="9.50" height="2.40" rx="1.20" fill="rgb(77,77,77)" filter="url(#bl)"/>
<rect x="236.25" y="218.80" width="9.50" height="2.40" rx="1.20" fill="rgb(13,13,13)" filter="url(#bl)"/>
<rect x="250.05" y="218.80" width="9.50" height="2.40" rx="1.20" fill="rgb(77,77,77)" filter="url(#bl)"/>
<rect x="263.85" y="218.80" width="9.50" height="2.40" rx="1.20" fill="rgb(140,140,140)" filter="url(#bl)"/>
<rect x="277.15" y="218.80" width="9.50" height="2.40" rx="1.20" fill="rgb(20,20,20)" filter="url(#bl)"/>
<rect x="290.25" y="218.80" width="9.50" height="2.40" rx="1.20" fill="rgb(178,178,178)" filter="url(#bl)"/>
<rect x="32.5" y="212.4" width="268.5" height="16.900000000000006" rx="1.5" fill="none" stroke="#666" stroke-width="0.9"/>
<line x1="180.60" y1="212.40" x2="180.60" y2="229.30" stroke="#333" stroke-width="1.3"/>
<rect x="32.5" y="231.3" width="148" height="15.699999999999989" fill="#f6f6f6"/>
<rect x="180.5" y="231.3" width="120.5" height="15.699999999999989" fill="#f8f8f8"/>
<rect x="33.60" y="236.70" width="11.80" height="3.00" rx="1.50" fill="rgb(18,18,18)" filter="url(#bl)"/>
<rect x="45.60" y="236.92" width="11.80" height="3.00" rx="1.50" fill="rgb(18,18,18)" filter="url(#bl)"/>
<rect x="57.40" y="237.14" width="11.80" height="3.00" rx="1.50" fill="rgb(18,18,18)" filter="url(#bl)"/>
<rect x="69.60" y="237.36" width="11.80" height="3.00" rx="1.50" fill="rgb(18,18,18)" filter="url(#bl)"/>
<rect x="82.10" y="237.58" width="11.80" height="3.00" rx="1.50" fill="rgb(18,18,18)" filter="url(#bl)"/>
<rect x="93.90" y="237.80" width="11.80" height="3.00" rx="1.50" fill="rgb(18,18,18)" filter="url(#bl)"/>
<rect x="106.40" y="238.02" width="11.80" height="3.00" rx="1.50" fill="rgb(18,18,18)" filter="url(#bl)"/>
<rect x="118.80" y="238.24" width="11.80" height="3.00" rx="1.50" fill="rgb(18,18,18)" filter="url(#bl)"/>
<rect x="131.40" y="238.46" width="11.80" height="3.00" rx="1.50" fill="rgb(18,18,18)" filter="url(#bl)"/>
<rect x="143.90" y="238.68" width="11.80" height="3.00" rx="1.50" fill="rgb(18,18,18)" filter="url(#bl)"/>
<rect x="155.50" y="238.90" width="11.80" height="3.00" rx="1.50" fill="rgb(18,18,18)" filter="url(#bl)"/>
<rect x="168.10" y="239.12" width="11.80" height="3.00" rx="1.50" fill="rgb(18,18,18)" filter="url(#bl)"/>
<rect x="182.65" y="240.50" width="9.50" height="2.00" rx="1.00" fill="rgb(25,25,25)" filter="url(#bl)"/>
<rect x="195.85" y="240.30" width="9.50" height="2.00" rx="1.00" fill="rgb(25,25,25)" filter="url(#bl)"/>
<rect x="209.15" y="240.10" width="9.50" height="2.00" rx="1.00" fill="rgb(25,25,25)" filter="url(#bl)"/>
<rect x="222.75" y="239.90" width="9.50" height="2.00" rx="1.00" fill="rgb(25,25,25)" filter="url(#bl)"/>
<rect x="236.25" y="239.70" width="9.50" height="2.00" rx="1.00" fill="rgb(25,25,25)" filter="url(#bl)"/>
<rect x="250.05" y="239.50" width="9.50" height="2.00" rx="1.00" fill="rgb(25,25,25)" filter="url(#bl)"/>
<rect x="263.85" y="239.30" width="9.50" height="2.00" rx="1.00" fill="rgb(25,25,25)" filter="url(#bl)"/>
<rect x="277.15" y="239.10" width="9.50" height="2.00" rx="1.00" fill="rgb(25,25,25)" filter="url(#bl)"/>
<rect x="290.25" y="238.90" width="9.50" height="2.00" rx="1.00" fill="rgb(25,25,25)" filter="url(#bl)"/>
<rect x="32.5" y="231.3" width="268.5" height="15.699999999999989" rx="1.5" fill="none" stroke="#666" stroke-width="0.9"/>
<line x1="180.60" y1="231.30" x2="180.60" y2="247.00" stroke="#333" stroke-width="1.3"/>
<rect x="32.5" y="255.2" width="148" height="16.19999999999999" fill="#e8e8e8"/>
<rect x="180.5" y="255.2" width="120.5" height="16.19999999999999" fill="#f6f6f6"/>
<rect x="44.70" y="255.00" width="2.00" height="16.00" rx="8.00" fill="rgb(268,268,268)" filter="url(#bl2)"/>
<rect x="56.70" y="255.00" width="2.00" height="16.00" rx="8.00" fill="rgb(268,268,268)" filter="url(#bl2)"/>
<rect x="68.50" y="255.00" width="2.00" height="16.00" rx="8.00" fill="rgb(268,268,268)" filter="url(#bl2)"/>
<rect x="80.70" y="255.00" width="2.00" height="16.00" rx="8.00" fill="rgb(268,268,268)" filter="url(#bl2)"/>
<rect x="93.20" y="255.00" width="2.00" height="16.00" rx="8.00" fill="rgb(268,268,268)" filter="url(#bl2)"/>
<rect x="105.00" y="255.00" width="2.00" height="16.00" rx="8.00" fill="rgb(268,268,268)" filter="url(#bl2)"/>
<rect x="117.50" y="255.00" width="2.00" height="16.00" rx="8.00" fill="rgb(268,268,268)" filter="url(#bl2)"/>
<rect x="129.90" y="255.00" width="2.00" height="16.00" rx="8.00" fill="rgb(268,268,268)" filter="url(#bl2)"/>
<rect x="142.50" y="255.00" width="2.00" height="16.00" rx="8.00" fill="rgb(268,268,268)" filter="url(#bl2)"/>
<rect x="155.00" y="255.00" width="2.00" height="16.00" rx="8.00" fill="rgb(268,268,268)" filter="url(#bl2)"/>
<rect x="166.60" y="255.00" width="2.00" height="16.00" rx="8.00" fill="rgb(268,268,268)" filter="url(#bl2)"/>
<rect x="179.20" y="255.00" width="2.00" height="16.00" rx="8.00" fill="rgb(268,268,268)" filter="url(#bl2)"/>
<rect x="33.90" y="260.00" width="11.20" height="4.00" rx="2.00" fill="rgb(82,82,82)" filter="url(#bl)"/>
<rect x="35.00" y="266.25" width="9.00" height="2.50" rx="1.25" fill="rgb(224,224,224)" filter="url(#bl2)"/>
<rect x="45.90" y="260.00" width="11.20" height="4.00" rx="2.00" fill="rgb(20,20,20)" filter="url(#bl)"/>
<rect x="47.00" y="266.25" width="9.00" height="2.50" rx="1.25" fill="rgb(224,224,224)" filter="url(#bl2)"/>
<rect x="57.70" y="260.00" width="11.20" height="4.00" rx="2.00" fill="rgb(56,56,56)" filter="url(#bl)"/>
<rect x="58.80" y="266.25" width="9.00" height="2.50" rx="1.25" fill="rgb(224,224,224)" filter="url(#bl2)"/>
<rect x="69.90" y="260.00" width="11.20" height="4.00" rx="2.00" fill="rgb(71,71,71)" filter="url(#bl)"/>
<rect x="71.00" y="266.25" width="9.00" height="2.50" rx="1.25" fill="rgb(224,224,224)" filter="url(#bl2)"/>
<rect x="82.40" y="260.00" width="11.20" height="4.00" rx="2.00" fill="rgb(184,184,184)" filter="url(#bl)"/>
<rect x="83.50" y="266.25" width="9.00" height="2.50" rx="1.25" fill="rgb(240,240,240)" filter="url(#bl2)"/>
<rect x="94.20" y="260.00" width="11.20" height="4.00" rx="2.00" fill="rgb(173,173,173)" filter="url(#bl)"/>
<rect x="95.30" y="266.25" width="9.00" height="2.50" rx="1.25" fill="rgb(240,240,240)" filter="url(#bl2)"/>
<rect x="106.70" y="260.00" width="11.20" height="4.00" rx="2.00" fill="rgb(173,173,173)" filter="url(#bl)"/>
<rect x="107.80" y="266.25" width="9.00" height="2.50" rx="1.25" fill="rgb(240,240,240)" filter="url(#bl2)"/>
<rect x="119.10" y="260.00" width="11.20" height="4.00" rx="2.00" fill="rgb(178,178,178)" filter="url(#bl)"/>
<rect x="120.20" y="266.25" width="9.00" height="2.50" rx="1.25" fill="rgb(240,240,240)" filter="url(#bl2)"/>
<rect x="131.70" y="260.00" width="11.20" height="4.00" rx="2.00" fill="rgb(122,122,122)" filter="url(#bl)"/>
<rect x="132.80" y="266.25" width="9.00" height="2.50" rx="1.25" fill="rgb(224,224,224)" filter="url(#bl2)"/>
<rect x="144.20" y="260.00" width="11.20" height="4.00" rx="2.00" fill="rgb(148,148,148)" filter="url(#bl)"/>
<rect x="145.30" y="266.25" width="9.00" height="2.50" rx="1.25" fill="rgb(240,240,240)" filter="url(#bl2)"/>
<rect x="155.80" y="260.00" width="11.20" height="4.00" rx="2.00" fill="rgb(173,173,173)" filter="url(#bl)"/>
<rect x="156.90" y="266.25" width="9.00" height="2.50" rx="1.25" fill="rgb(240,240,240)" filter="url(#bl2)"/>
<rect x="168.40" y="260.00" width="11.20" height="4.00" rx="2.00" fill="rgb(168,168,168)" filter="url(#bl)"/>
<rect x="169.50" y="266.25" width="9.00" height="2.50" rx="1.25" fill="rgb(240,240,240)" filter="url(#bl2)"/>
<rect x="182.15" y="261.25" width="10.50" height="3.90" rx="1.95" fill="rgb(13,13,13)" filter="url(#bl)"/>
<rect x="195.35" y="261.25" width="10.50" height="3.90" rx="1.95" fill="rgb(13,13,13)" filter="url(#bl)"/>
<rect x="208.65" y="261.25" width="10.50" height="3.90" rx="1.95" fill="rgb(18,18,18)" filter="url(#bl)"/>
<rect x="222.25" y="261.25" width="10.50" height="3.90" rx="1.95" fill="rgb(46,46,46)" filter="url(#bl)"/>
<rect x="235.75" y="261.25" width="10.50" height="3.90" rx="1.95" fill="rgb(13,13,13)" filter="url(#bl)"/>
<rect x="249.55" y="261.25" width="10.50" height="3.90" rx="1.95" fill="rgb(71,71,71)" filter="url(#bl)"/>
<rect x="263.35" y="261.25" width="10.50" height="3.90" rx="1.95" fill="rgb(97,97,97)" filter="url(#bl)"/>
<rect x="276.65" y="261.25" width="10.50" height="3.90" rx="1.95" fill="rgb(31,31,31)" filter="url(#bl)"/>
<rect x="289.75" y="261.25" width="10.50" height="3.90" rx="1.95" fill="rgb(115,115,115)" filter="url(#bl)"/>
<rect x="32.5" y="255.2" width="268.5" height="16.19999999999999" rx="1.5" fill="none" stroke="#666" stroke-width="0.9"/>
<line x1="180.60" y1="255.20" x2="180.60" y2="271.40" stroke="#333" stroke-width="1.3"/>
<rect x="32.5" y="273.4" width="148" height="16.600000000000023" fill="#f4f4f4"/>
<rect x="180.5" y="273.4" width="120.5" height="16.600000000000023" fill="#f8f8f8"/>
<rect x="34.50" y="278.80" width="10.00" height="2.20" rx="1.10" fill="rgb(102,102,102)" filter="url(#bl)"/>
<rect x="34.50" y="281.90" width="10.00" height="2.20" rx="1.10" fill="rgb(115,115,115)" filter="url(#bl)"/>
<rect x="45.60" y="278.80" width="11.80" height="3.60" rx="1.80" fill="rgb(13,13,13)" filter="url(#bl)"/>
<rect x="57.40" y="278.80" width="11.80" height="3.60" rx="1.80" fill="rgb(13,13,13)" filter="url(#bl)"/>
<rect x="69.60" y="278.80" width="11.80" height="3.60" rx="1.80" fill="rgb(13,13,13)" filter="url(#bl)"/>
<rect x="82.10" y="278.80" width="11.80" height="3.60" rx="1.80" fill="rgb(13,13,13)" filter="url(#bl)"/>
<rect x="93.90" y="278.80" width="11.80" height="3.60" rx="1.80" fill="rgb(13,13,13)" filter="url(#bl)"/>
<rect x="106.40" y="278.80" width="11.80" height="3.60" rx="1.80" fill="rgb(13,13,13)" filter="url(#bl)"/>
<rect x="118.80" y="278.80" width="11.80" height="3.60" rx="1.80" fill="rgb(13,13,13)" filter="url(#bl)"/>
<rect x="131.40" y="278.80" width="11.80" height="3.60" rx="1.80" fill="rgb(13,13,13)" filter="url(#bl)"/>
<rect x="143.90" y="278.80" width="11.80" height="3.60" rx="1.80" fill="rgb(13,13,13)" filter="url(#bl)"/>
<rect x="155.50" y="278.80" width="11.80" height="3.60" rx="1.80" fill="rgb(13,13,13)" filter="url(#bl)"/>
<rect x="168.10" y="278.80" width="11.80" height="3.60" rx="1.80" fill="rgb(13,13,13)" filter="url(#bl)"/>
<rect x="182.65" y="280.70" width="9.50" height="2.20" rx="1.10" fill="rgb(20,20,20)" filter="url(#bl)"/>
<rect x="195.85" y="280.70" width="9.50" height="2.20" rx="1.10" fill="rgb(20,20,20)" filter="url(#bl)"/>
<rect x="209.15" y="280.70" width="9.50" height="2.20" rx="1.10" fill="rgb(20,20,20)" filter="url(#bl)"/>
<rect x="222.75" y="280.70" width="9.50" height="2.20" rx="1.10" fill="rgb(20,20,20)" filter="url(#bl)"/>
<rect x="236.25" y="280.70" width="9.50" height="2.20" rx="1.10" fill="rgb(20,20,20)" filter="url(#bl)"/>
<rect x="250.05" y="280.70" width="9.50" height="2.20" rx="1.10" fill="rgb(20,20,20)" filter="url(#bl)"/>
<rect x="263.85" y="280.70" width="9.50" height="2.20" rx="1.10" fill="rgb(20,20,20)" filter="url(#bl)"/>
<rect x="277.15" y="280.70" width="9.50" height="2.20" rx="1.10" fill="rgb(20,20,20)" filter="url(#bl)"/>
<rect x="290.25" y="280.70" width="9.50" height="2.20" rx="1.10" fill="rgb(20,20,20)" filter="url(#bl)"/>
<rect x="32.5" y="273.4" width="268.5" height="16.600000000000023" rx="1.5" fill="none" stroke="#666" stroke-width="0.9"/>
<line x1="180.60" y1="273.40" x2="180.60" y2="290.00" stroke="#333" stroke-width="1.3"/>
</svg>
</body></html>
